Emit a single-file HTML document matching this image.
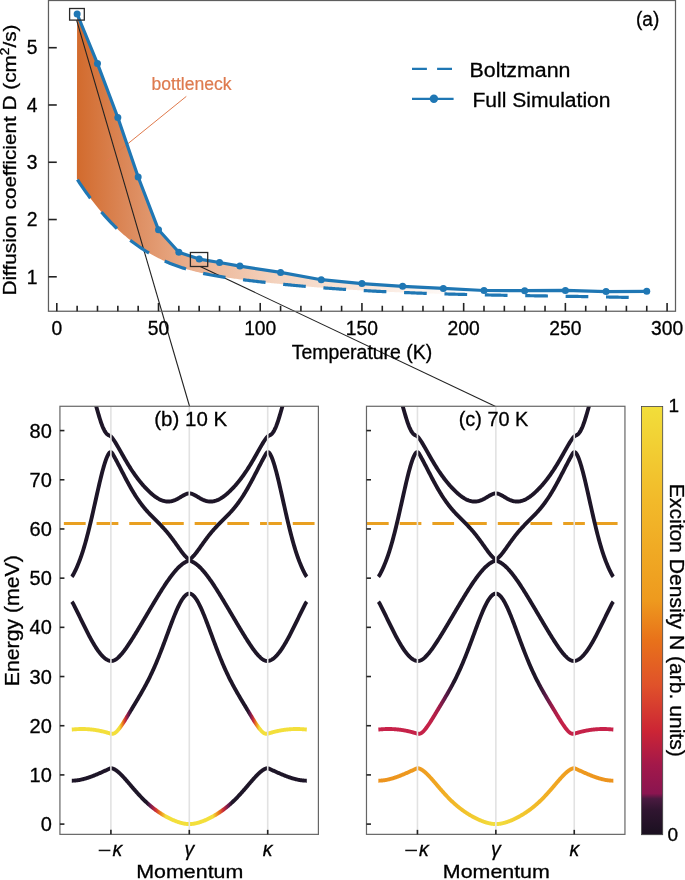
<!DOCTYPE html>
<html><head><meta charset="utf-8"><style>html,body{margin:0;padding:0;background:#fff;}svg{display:block;will-change:transform;} text{stroke:#000;stroke-width:0.3px;}</style></head>
<body><svg width="685" height="880" viewBox="0 0 685 880" font-family="Liberation Sans, sans-serif" fill="#000">
<defs><linearGradient id="fillg" gradientUnits="userSpaceOnUse" x1="76" y1="0" x2="470" y2="0">
<stop offset="0" stop-color="#d26a2c"/>
<stop offset="0.137" stop-color="#dc8a5c"/>
<stop offset="0.315" stop-color="#ecb494"/>
<stop offset="0.518" stop-color="#f4d4c0"/>
<stop offset="0.82" stop-color="#fbeee6"/>
<stop offset="1" stop-color="#ffffff"/>
</linearGradient>
<linearGradient id="b1_10" gradientUnits="userSpaceOnUse" x1="69.3" y1="0" x2="309.3" y2="0"><stop offset="0.0000" stop-color="#1e1628"/><stop offset="0.3229" stop-color="#1e1628"/><stop offset="0.3375" stop-color="#6a1a50"/><stop offset="0.3583" stop-color="#cc2a36"/><stop offset="0.3812" stop-color="#ee8a1c"/><stop offset="0.4021" stop-color="#f3df3b"/><stop offset="0.5000" stop-color="#f3df3b"/><stop offset="0.5000" stop-color="#f3df3b"/><stop offset="0.5979" stop-color="#f3df3b"/><stop offset="0.6188" stop-color="#ee8a1c"/><stop offset="0.6417" stop-color="#cc2a36"/><stop offset="0.6625" stop-color="#6a1a50"/><stop offset="0.6771" stop-color="#1e1628"/><stop offset="1.0000" stop-color="#1e1628"/></linearGradient>
<linearGradient id="b2_10" gradientUnits="userSpaceOnUse" x1="69.3" y1="0" x2="309.3" y2="0"><stop offset="0.0000" stop-color="#f3df3b"/><stop offset="0.2083" stop-color="#f3df3b"/><stop offset="0.2208" stop-color="#ee8a1c"/><stop offset="0.2333" stop-color="#cc2a36"/><stop offset="0.2458" stop-color="#6a1a50"/><stop offset="0.2583" stop-color="#1e1628"/><stop offset="0.5000" stop-color="#1e1628"/><stop offset="0.5000" stop-color="#1e1628"/><stop offset="0.7417" stop-color="#1e1628"/><stop offset="0.7542" stop-color="#6a1a50"/><stop offset="0.7667" stop-color="#cc2a36"/><stop offset="0.7792" stop-color="#ee8a1c"/><stop offset="0.7917" stop-color="#f3df3b"/><stop offset="1.0000" stop-color="#f3df3b"/></linearGradient>
<linearGradient id="b1_70" gradientUnits="userSpaceOnUse" x1="375.85" y1="0" x2="615.85" y2="0"><stop offset="0.0000" stop-color="#ec921e"/><stop offset="0.1750" stop-color="#ee9a1e"/><stop offset="0.2500" stop-color="#f0a622"/><stop offset="0.3750" stop-color="#f2c42c"/><stop offset="0.5000" stop-color="#f2e040"/><stop offset="0.5000" stop-color="#f2e040"/><stop offset="0.6250" stop-color="#f2c42c"/><stop offset="0.7500" stop-color="#f0a622"/><stop offset="0.8250" stop-color="#ee9a1e"/><stop offset="1.0000" stop-color="#ec921e"/></linearGradient>
<linearGradient id="b2_70" gradientUnits="userSpaceOnUse" x1="375.85" y1="0" x2="615.85" y2="0"><stop offset="0.0000" stop-color="#c8224a"/><stop offset="0.2250" stop-color="#c42248"/><stop offset="0.2583" stop-color="#a81c48"/><stop offset="0.2917" stop-color="#5a1a48"/><stop offset="0.3250" stop-color="#1e1628"/><stop offset="0.5000" stop-color="#1e1628"/><stop offset="0.5000" stop-color="#1e1628"/><stop offset="0.6750" stop-color="#1e1628"/><stop offset="0.7083" stop-color="#5a1a48"/><stop offset="0.7417" stop-color="#a81c48"/><stop offset="0.7750" stop-color="#c42248"/><stop offset="1.0000" stop-color="#c8224a"/></linearGradient>
<clipPath id="cb"><rect x="59.93" y="406.28" width="258.47" height="428.08"/></clipPath>
<clipPath id="cc"><rect x="366.48" y="406.28" width="258.47" height="428.08"/></clipPath>
<linearGradient id="cbar" x1="0" y1="1" x2="0" y2="0">
<stop offset="0" stop-color="#1a1020"/>
<stop offset="0.058" stop-color="#301530"/>
<stop offset="0.084" stop-color="#4a1a40"/>
<stop offset="0.096" stop-color="#8a1550"/>
<stop offset="0.163" stop-color="#a3184a"/>
<stop offset="0.242" stop-color="#cc2535"/>
<stop offset="0.35" stop-color="#e0522a"/>
<stop offset="0.455" stop-color="#e8721a"/>
<stop offset="0.548" stop-color="#ee9a1e"/>
<stop offset="0.782" stop-color="#f2ba2a"/>
<stop offset="1" stop-color="#f2de3a"/>
</linearGradient></defs>
<rect x="0" y="0" width="685" height="880" fill="#fff"/>
<polygon points="77.1,14 97.49,63.6 117.83,117.5 138.17,177 158.51,229.8 178.86,252.3 199.2,259.1 219.54,262.5 239.89,266.1 280.57,272.4 321.26,279.7 361.94,283.6 402.63,286.3 443.32,288.4 484,290.5 524.69,290.7 565.38,290.4 606.06,291.6 646.75,291.3 628.9,297.45 628.9,297.45 627.52,297.42 626.13,297.39 624.75,297.36 623.37,297.33 621.98,297.3 620.6,297.27 619.22,297.24 617.83,297.21 616.45,297.18 615.07,297.15 613.68,297.12 612.3,297.09 610.92,297.07 609.53,297.04 608.15,297.01 606.76,296.98 605.38,296.96 604,296.93 602.61,296.9 601.23,296.88 599.85,296.85 598.46,296.83 597.08,296.8 595.7,296.78 594.31,296.75 592.93,296.73 591.55,296.7 590.16,296.68 588.78,296.65 587.4,296.63 586.01,296.61 584.63,296.58 583.25,296.56 581.86,296.54 580.48,296.51 579.1,296.49 577.71,296.47 576.33,296.45 574.95,296.42 573.56,296.4 572.18,296.38 570.79,296.36 569.41,296.33 568.03,296.31 566.64,296.29 565.26,296.27 563.88,296.25 562.49,296.22 561.11,296.2 559.73,296.18 558.34,296.16 556.96,296.14 555.58,296.12 554.19,296.09 552.81,296.07 551.43,296.05 550.04,296.03 548.66,296.01 547.28,295.99 545.89,295.97 544.51,295.94 543.13,295.92 541.74,295.9 540.36,295.88 538.98,295.86 537.59,295.84 536.21,295.81 534.82,295.79 533.44,295.77 532.06,295.75 530.67,295.73 529.29,295.7 527.91,295.68 526.52,295.66 525.14,295.64 523.76,295.61 522.37,295.59 520.99,295.57 519.61,295.55 518.22,295.52 516.84,295.5 515.46,295.48 514.07,295.45 512.69,295.43 511.31,295.41 509.92,295.38 508.54,295.36 507.16,295.33 505.77,295.31 504.39,295.28 503.01,295.26 501.62,295.23 500.24,295.21 498.85,295.18 497.47,295.16 496.09,295.13 494.7,295.1 493.32,295.08 491.94,295.05 490.55,295.02 489.17,295 487.79,294.97 486.4,294.94 485.02,294.91 483.64,294.88 482.25,294.85 480.87,294.82 479.49,294.79 478.1,294.76 476.72,294.73 475.34,294.7 473.95,294.67 472.57,294.64 471.19,294.61 469.8,294.58 468.42,294.55 467.04,294.51 465.65,294.48 464.27,294.45 462.88,294.41 461.5,294.38 460.12,294.34 458.73,294.31 457.35,294.27 455.97,294.24 454.58,294.2 453.2,294.16 451.82,294.13 450.43,294.09 449.05,294.05 447.67,294.01 446.28,293.97 444.9,293.93 443.52,293.89 442.13,293.85 440.75,293.81 439.37,293.77 437.98,293.73 436.6,293.69 435.22,293.64 433.83,293.6 432.45,293.55 431.07,293.51 429.68,293.46 428.3,293.42 426.92,293.37 425.53,293.32 424.15,293.28 422.76,293.23 421.38,293.18 420,293.13 418.61,293.08 417.23,293.03 415.85,292.98 414.46,292.93 413.08,292.88 411.7,292.82 410.31,292.77 408.93,292.72 407.55,292.66 406.16,292.6 404.78,292.55 403.4,292.49 402.01,292.43 400.63,292.38 399.25,292.32 397.86,292.26 396.48,292.2 395.1,292.14 393.71,292.07 392.33,292.01 390.95,291.95 389.56,291.88 388.18,291.82 386.79,291.75 385.41,291.69 384.03,291.62 382.64,291.55 381.26,291.49 379.88,291.42 378.49,291.35 377.11,291.28 375.73,291.2 374.34,291.13 372.96,291.06 371.58,290.98 370.19,290.91 368.81,290.83 367.43,290.76 366.04,290.68 364.66,290.6 363.28,290.52 361.89,290.44 360.51,290.36 359.13,290.28 357.74,290.2 356.36,290.11 354.98,290.03 353.59,289.95 352.21,289.86 350.82,289.77 349.44,289.68 348.06,289.6 346.67,289.51 345.29,289.41 343.91,289.32 342.52,289.23 341.14,289.14 339.76,289.04 338.37,288.95 336.99,288.85 335.61,288.75 334.22,288.65 332.84,288.56 331.46,288.46 330.07,288.35 328.69,288.25 327.31,288.15 325.92,288.04 324.54,287.94 323.16,287.83 321.77,287.72 320.39,287.62 319.01,287.51 317.62,287.39 316.24,287.28 314.85,287.17 313.47,287.06 312.09,286.94 310.7,286.83 309.32,286.71 307.94,286.59 306.55,286.47 305.17,286.35 303.79,286.23 302.4,286.11 301.02,285.98 299.64,285.86 298.25,285.73 296.87,285.6 295.49,285.48 294.1,285.35 292.72,285.22 291.34,285.09 289.95,284.95 288.57,284.82 287.19,284.68 285.8,284.55 284.42,284.41 283.04,284.27 281.65,284.13 280.27,283.99 278.88,283.85 277.5,283.71 276.12,283.56 274.73,283.42 273.35,283.27 271.97,283.13 270.58,282.98 269.2,282.83 267.82,282.68 266.43,282.52 265.05,282.37 263.67,282.21 262.28,282.06 260.9,281.9 259.52,281.74 258.13,281.58 256.75,281.42 255.37,281.26 253.98,281.1 252.6,280.93 251.22,280.77 249.83,280.6 248.45,280.43 247.07,280.26 245.68,280.09 244.3,279.92 242.92,279.75 241.53,279.57 240.15,279.4 238.76,279.22 237.38,279.04 236,278.86 234.61,278.68 233.23,278.49 231.85,278.3 230.46,278.11 229.08,277.91 227.7,277.71 226.31,277.51 224.93,277.31 223.55,277.09 222.16,276.88 220.78,276.66 219.4,276.44 218.01,276.21 216.63,275.97 215.25,275.73 213.86,275.48 212.48,275.23 211.1,274.97 209.71,274.71 208.33,274.44 206.95,274.16 205.56,273.87 204.18,273.58 202.79,273.28 201.41,272.97 200.03,272.65 198.64,272.33 197.26,271.99 195.88,271.65 194.49,271.3 193.11,270.94 191.73,270.57 190.34,270.19 188.96,269.8 187.58,269.4 186.19,268.99 184.81,268.57 183.43,268.14 182.04,267.69 180.66,267.24 179.28,266.77 177.89,266.29 176.51,265.8 175.13,265.3 173.74,264.79 172.36,264.26 170.98,263.71 169.59,263.16 168.21,262.58 166.82,262 165.44,261.4 164.06,260.78 162.67,260.15 161.29,259.5 159.91,258.84 158.52,258.16 157.14,257.46 155.76,256.75 154.37,256.02 152.99,255.27 151.61,254.5 150.22,253.72 148.84,252.91 147.46,252.09 146.07,251.25 144.69,250.39 143.31,249.5 141.92,248.6 140.54,247.68 139.16,246.74 137.77,245.77 136.39,244.79 135.01,243.78 133.62,242.75 132.24,241.7 130.85,240.63 129.47,239.53 128.09,238.41 126.7,237.26 125.32,236.09 123.94,234.9 122.55,233.69 121.17,232.45 119.79,231.18 118.4,229.89 117.02,228.58 115.64,227.24 114.25,225.88 112.87,224.49 111.49,223.07 110.1,221.63 108.72,220.16 107.34,218.67 105.95,217.15 104.57,215.61 103.19,214.03 101.8,212.43 100.42,210.81 99.04,209.15 97.65,207.47 96.27,205.76 94.88,204.02 93.5,202.26 92.12,200.46 90.73,198.64 89.35,196.79 87.97,194.91 86.58,193 85.2,191.07 83.82,189.1 82.43,187.1 81.05,185.08 79.67,183.02 78.28,180.93 76.9,178.81" fill="url(#fillg)"/>
<line x1="186.3" y1="96.4" x2="106.5" y2="161" stroke="#e07a4c" stroke-width="1"/>
<text x="151.6" y="89.5" font-size="17.5" fill="#de7b4f" style="stroke:#de7b4f;stroke-width:0.2px" textLength="80" lengthAdjust="spacingAndGlyphs">bottleneck</text>
<line x1="76.6" y1="20.1" x2="189.6" y2="406.5" stroke="#222" stroke-width="1.1"/>
<line x1="200.2" y1="266.5" x2="495.6" y2="406.5" stroke="#222" stroke-width="1.1"/>
<path d="M76.9,178.81 L78.28,180.93 L79.67,183.02 L81.05,185.08 L82.43,187.1 L83.82,189.1 L85.2,191.07 L86.58,193 L87.97,194.91 L89.35,196.79 L90.73,198.64 L92.12,200.46 L93.5,202.26 L94.88,204.02 L96.27,205.76 L97.65,207.47 L99.04,209.15 L100.42,210.81 L101.8,212.43 L103.19,214.03 L104.57,215.61 L105.95,217.15 L107.34,218.67 L108.72,220.16 L110.1,221.63 L111.49,223.07 L112.87,224.49 L114.25,225.88 L115.64,227.24 L117.02,228.58 L118.4,229.89 L119.79,231.18 L121.17,232.45 L122.55,233.69 L123.94,234.9 L125.32,236.09 L126.7,237.26 L128.09,238.41 L129.47,239.53 L130.85,240.63 L132.24,241.7 L133.62,242.75 L135.01,243.78 L136.39,244.79 L137.77,245.77 L139.16,246.74 L140.54,247.68 L141.92,248.6 L143.31,249.5 L144.69,250.39 L146.07,251.25 L147.46,252.09 L148.84,252.91 L150.22,253.72 L151.61,254.5 L152.99,255.27 L154.37,256.02 L155.76,256.75 L157.14,257.46 L158.52,258.16 L159.91,258.84 L161.29,259.5 L162.67,260.15 L164.06,260.78 L165.44,261.4 L166.82,262 L168.21,262.58 L169.59,263.16 L170.98,263.71 L172.36,264.26 L173.74,264.79 L175.13,265.3 L176.51,265.8 L177.89,266.29 L179.28,266.77 L180.66,267.24 L182.04,267.69 L183.43,268.14 L184.81,268.57 L186.19,268.99 L187.58,269.4 L188.96,269.8 L190.34,270.19 L191.73,270.57 L193.11,270.94 L194.49,271.3 L195.88,271.65 L197.26,271.99 L198.64,272.33 L200.03,272.65 L201.41,272.97 L202.79,273.28 L204.18,273.58 L205.56,273.87 L206.95,274.16 L208.33,274.44 L209.71,274.71 L211.1,274.97 L212.48,275.23 L213.86,275.48 L215.25,275.73 L216.63,275.97 L218.01,276.21 L219.4,276.44 L220.78,276.66 L222.16,276.88 L223.55,277.09 L224.93,277.31 L226.31,277.51 L227.7,277.71 L229.08,277.91 L230.46,278.11 L231.85,278.3 L233.23,278.49 L234.61,278.68 L236,278.86 L237.38,279.04 L238.76,279.22 L240.15,279.4 L241.53,279.57 L242.92,279.75 L244.3,279.92 L245.68,280.09 L247.07,280.26 L248.45,280.43 L249.83,280.6 L251.22,280.77 L252.6,280.93 L253.98,281.1 L255.37,281.26 L256.75,281.42 L258.13,281.58 L259.52,281.74 L260.9,281.9 L262.28,282.06 L263.67,282.21 L265.05,282.37 L266.43,282.52 L267.82,282.68 L269.2,282.83 L270.58,282.98 L271.97,283.13 L273.35,283.27 L274.73,283.42 L276.12,283.56 L277.5,283.71 L278.88,283.85 L280.27,283.99 L281.65,284.13 L283.04,284.27 L284.42,284.41 L285.8,284.55 L287.19,284.68 L288.57,284.82 L289.95,284.95 L291.34,285.09 L292.72,285.22 L294.1,285.35 L295.49,285.48 L296.87,285.6 L298.25,285.73 L299.64,285.86 L301.02,285.98 L302.4,286.11 L303.79,286.23 L305.17,286.35 L306.55,286.47 L307.94,286.59 L309.32,286.71 L310.7,286.83 L312.09,286.94 L313.47,287.06 L314.85,287.17 L316.24,287.28 L317.62,287.39 L319.01,287.51 L320.39,287.62 L321.77,287.72 L323.16,287.83 L324.54,287.94 L325.92,288.04 L327.31,288.15 L328.69,288.25 L330.07,288.35 L331.46,288.46 L332.84,288.56 L334.22,288.65 L335.61,288.75 L336.99,288.85 L338.37,288.95 L339.76,289.04 L341.14,289.14 L342.52,289.23 L343.91,289.32 L345.29,289.41 L346.67,289.51 L348.06,289.6 L349.44,289.68 L350.82,289.77 L352.21,289.86 L353.59,289.95 L354.98,290.03 L356.36,290.11 L357.74,290.2 L359.13,290.28 L360.51,290.36 L361.89,290.44 L363.28,290.52 L364.66,290.6 L366.04,290.68 L367.43,290.76 L368.81,290.83 L370.19,290.91 L371.58,290.98 L372.96,291.06 L374.34,291.13 L375.73,291.2 L377.11,291.28 L378.49,291.35 L379.88,291.42 L381.26,291.49 L382.64,291.55 L384.03,291.62 L385.41,291.69 L386.79,291.75 L388.18,291.82 L389.56,291.88 L390.95,291.95 L392.33,292.01 L393.71,292.07 L395.1,292.14 L396.48,292.2 L397.86,292.26 L399.25,292.32 L400.63,292.38 L402.01,292.43 L403.4,292.49 L404.78,292.55 L406.16,292.6 L407.55,292.66 L408.93,292.72 L410.31,292.77 L411.7,292.82 L413.08,292.88 L414.46,292.93 L415.85,292.98 L417.23,293.03 L418.61,293.08 L420,293.13 L421.38,293.18 L422.76,293.23 L424.15,293.28 L425.53,293.32 L426.92,293.37 L428.3,293.42 L429.68,293.46 L431.07,293.51 L432.45,293.55 L433.83,293.6 L435.22,293.64 L436.6,293.69 L437.98,293.73 L439.37,293.77 L440.75,293.81 L442.13,293.85 L443.52,293.89 L444.9,293.93 L446.28,293.97 L447.67,294.01 L449.05,294.05 L450.43,294.09 L451.82,294.13 L453.2,294.16 L454.58,294.2 L455.97,294.24 L457.35,294.27 L458.73,294.31 L460.12,294.34 L461.5,294.38 L462.88,294.41 L464.27,294.45 L465.65,294.48 L467.04,294.51 L468.42,294.55 L469.8,294.58 L471.19,294.61 L472.57,294.64 L473.95,294.67 L475.34,294.7 L476.72,294.73 L478.1,294.76 L479.49,294.79 L480.87,294.82 L482.25,294.85 L483.64,294.88 L485.02,294.91 L486.4,294.94 L487.79,294.97 L489.17,295 L490.55,295.02 L491.94,295.05 L493.32,295.08 L494.7,295.1 L496.09,295.13 L497.47,295.16 L498.85,295.18 L500.24,295.21 L501.62,295.23 L503.01,295.26 L504.39,295.28 L505.77,295.31 L507.16,295.33 L508.54,295.36 L509.92,295.38 L511.31,295.41 L512.69,295.43 L514.07,295.45 L515.46,295.48 L516.84,295.5 L518.22,295.52 L519.61,295.55 L520.99,295.57 L522.37,295.59 L523.76,295.61 L525.14,295.64 L526.52,295.66 L527.91,295.68 L529.29,295.7 L530.67,295.73 L532.06,295.75 L533.44,295.77 L534.82,295.79 L536.21,295.81 L537.59,295.84 L538.98,295.86 L540.36,295.88 L541.74,295.9 L543.13,295.92 L544.51,295.94 L545.89,295.97 L547.28,295.99 L548.66,296.01 L550.04,296.03 L551.43,296.05 L552.81,296.07 L554.19,296.09 L555.58,296.12 L556.96,296.14 L558.34,296.16 L559.73,296.18 L561.11,296.2 L562.49,296.22 L563.88,296.25 L565.26,296.27 L566.64,296.29 L568.03,296.31 L569.41,296.33 L570.79,296.36 L572.18,296.38 L573.56,296.4 L574.95,296.42 L576.33,296.45 L577.71,296.47 L579.1,296.49 L580.48,296.51 L581.86,296.54 L583.25,296.56 L584.63,296.58 L586.01,296.61 L587.4,296.63 L588.78,296.65 L590.16,296.68 L591.55,296.7 L592.93,296.73 L594.31,296.75 L595.7,296.78 L597.08,296.8 L598.46,296.83 L599.85,296.85 L601.23,296.88 L602.61,296.9 L604,296.93 L605.38,296.96 L606.76,296.98 L608.15,297.01 L609.53,297.04 L610.92,297.07 L612.3,297.09 L613.68,297.12 L615.07,297.15 L616.45,297.18 L617.83,297.21 L619.22,297.24 L620.6,297.27 L621.98,297.3 L623.37,297.33 L624.75,297.36 L626.13,297.39 L627.52,297.42 L628.9,297.45" fill="none" stroke="#1f77b4" stroke-width="3.2" stroke-dasharray="22.7 17.7" stroke-dashoffset="-0.9"/>
<polyline points="77.14,14 97.49,63.6 117.83,117.5 138.17,177 158.51,229.8 178.86,252.3 199.2,259.1 219.54,262.5 239.89,266.1 280.57,272.4 321.26,279.7 361.94,283.6 402.63,286.3 443.32,288.4 484,290.5 524.69,290.7 565.38,290.4 606.06,291.6 646.75,291.3" fill="none" stroke="#1f77b4" stroke-width="3.2" stroke-linejoin="round"/>
<circle cx="77.14" cy="14" r="3.5" fill="#1f77b4"/>
<circle cx="97.49" cy="63.6" r="3.5" fill="#1f77b4"/>
<circle cx="117.83" cy="117.5" r="3.5" fill="#1f77b4"/>
<circle cx="138.17" cy="177" r="3.5" fill="#1f77b4"/>
<circle cx="158.51" cy="229.8" r="3.5" fill="#1f77b4"/>
<circle cx="178.86" cy="252.3" r="3.5" fill="#1f77b4"/>
<circle cx="199.2" cy="259.1" r="3.5" fill="#1f77b4"/>
<circle cx="219.54" cy="262.5" r="3.5" fill="#1f77b4"/>
<circle cx="239.89" cy="266.1" r="3.5" fill="#1f77b4"/>
<circle cx="280.57" cy="272.4" r="3.5" fill="#1f77b4"/>
<circle cx="321.26" cy="279.7" r="3.5" fill="#1f77b4"/>
<circle cx="361.94" cy="283.6" r="3.5" fill="#1f77b4"/>
<circle cx="402.63" cy="286.3" r="3.5" fill="#1f77b4"/>
<circle cx="443.32" cy="288.4" r="3.5" fill="#1f77b4"/>
<circle cx="484" cy="290.5" r="3.5" fill="#1f77b4"/>
<circle cx="524.69" cy="290.7" r="3.5" fill="#1f77b4"/>
<circle cx="565.38" cy="290.4" r="3.5" fill="#1f77b4"/>
<circle cx="606.06" cy="291.6" r="3.5" fill="#1f77b4"/>
<circle cx="646.75" cy="291.3" r="3.5" fill="#1f77b4"/>
<rect x="69.6" y="8.5" width="14.7" height="11.6" fill="none" stroke="#2a2a2a" stroke-width="1.3"/>
<rect x="190.4" y="252.5" width="17.3" height="14" fill="none" stroke="#2a2a2a" stroke-width="1.3"/>
<rect x="48.47" y="0.5" width="627.03" height="310.74" fill="none" stroke="#5e5e5e" stroke-width="1.25"/>
<line x1="48.47" y1="276.8" x2="56.769999999999996" y2="276.8" stroke="#222" stroke-width="1.6"/>
<text x="37.6" y="283.5" font-size="19.3" text-anchor="end">1</text>
<line x1="48.47" y1="219.53" x2="56.769999999999996" y2="219.53" stroke="#222" stroke-width="1.6"/>
<text x="37.6" y="226.22" font-size="19.3" text-anchor="end">2</text>
<line x1="48.47" y1="162.25" x2="56.769999999999996" y2="162.25" stroke="#222" stroke-width="1.6"/>
<text x="37.6" y="168.95" font-size="19.3" text-anchor="end">3</text>
<line x1="48.47" y1="104.98" x2="56.769999999999996" y2="104.98" stroke="#222" stroke-width="1.6"/>
<text x="37.6" y="111.68" font-size="19.3" text-anchor="end">4</text>
<line x1="48.47" y1="47.7" x2="56.769999999999996" y2="47.7" stroke="#222" stroke-width="1.6"/>
<text x="37.6" y="54.4" font-size="19.3" text-anchor="end">5</text>
<line x1="56.8" y1="311.24" x2="56.8" y2="302.94" stroke="#222" stroke-width="1.6"/>
<line x1="77.14" y1="311.24" x2="77.14" y2="305.74" stroke="#222" stroke-width="1.6"/>
<line x1="97.49" y1="311.24" x2="97.49" y2="305.74" stroke="#222" stroke-width="1.6"/>
<line x1="117.83" y1="311.24" x2="117.83" y2="305.74" stroke="#222" stroke-width="1.6"/>
<line x1="138.17" y1="311.24" x2="138.17" y2="305.74" stroke="#222" stroke-width="1.6"/>
<line x1="158.51" y1="311.24" x2="158.51" y2="302.94" stroke="#222" stroke-width="1.6"/>
<line x1="178.86" y1="311.24" x2="178.86" y2="305.74" stroke="#222" stroke-width="1.6"/>
<line x1="199.2" y1="311.24" x2="199.2" y2="305.74" stroke="#222" stroke-width="1.6"/>
<line x1="219.54" y1="311.24" x2="219.54" y2="305.74" stroke="#222" stroke-width="1.6"/>
<line x1="239.89" y1="311.24" x2="239.89" y2="305.74" stroke="#222" stroke-width="1.6"/>
<line x1="260.23" y1="311.24" x2="260.23" y2="302.94" stroke="#222" stroke-width="1.6"/>
<line x1="280.57" y1="311.24" x2="280.57" y2="305.74" stroke="#222" stroke-width="1.6"/>
<line x1="300.92" y1="311.24" x2="300.92" y2="305.74" stroke="#222" stroke-width="1.6"/>
<line x1="321.26" y1="311.24" x2="321.26" y2="305.74" stroke="#222" stroke-width="1.6"/>
<line x1="341.6" y1="311.24" x2="341.6" y2="305.74" stroke="#222" stroke-width="1.6"/>
<line x1="361.94" y1="311.24" x2="361.94" y2="302.94" stroke="#222" stroke-width="1.6"/>
<line x1="382.29" y1="311.24" x2="382.29" y2="305.74" stroke="#222" stroke-width="1.6"/>
<line x1="402.63" y1="311.24" x2="402.63" y2="305.74" stroke="#222" stroke-width="1.6"/>
<line x1="422.97" y1="311.24" x2="422.97" y2="305.74" stroke="#222" stroke-width="1.6"/>
<line x1="443.32" y1="311.24" x2="443.32" y2="305.74" stroke="#222" stroke-width="1.6"/>
<line x1="463.66" y1="311.24" x2="463.66" y2="302.94" stroke="#222" stroke-width="1.6"/>
<line x1="484" y1="311.24" x2="484" y2="305.74" stroke="#222" stroke-width="1.6"/>
<line x1="504.35" y1="311.24" x2="504.35" y2="305.74" stroke="#222" stroke-width="1.6"/>
<line x1="524.69" y1="311.24" x2="524.69" y2="305.74" stroke="#222" stroke-width="1.6"/>
<line x1="545.03" y1="311.24" x2="545.03" y2="305.74" stroke="#222" stroke-width="1.6"/>
<line x1="565.38" y1="311.24" x2="565.38" y2="302.94" stroke="#222" stroke-width="1.6"/>
<line x1="585.72" y1="311.24" x2="585.72" y2="305.74" stroke="#222" stroke-width="1.6"/>
<line x1="606.06" y1="311.24" x2="606.06" y2="305.74" stroke="#222" stroke-width="1.6"/>
<line x1="626.4" y1="311.24" x2="626.4" y2="305.74" stroke="#222" stroke-width="1.6"/>
<line x1="646.75" y1="311.24" x2="646.75" y2="305.74" stroke="#222" stroke-width="1.6"/>
<line x1="667.09" y1="311.24" x2="667.09" y2="302.94" stroke="#222" stroke-width="1.6"/>
<text x="56.8" y="335.2" font-size="19.3" text-anchor="middle">0</text>
<text x="158.51" y="335.2" font-size="19.3" text-anchor="middle">50</text>
<text x="260.23" y="335.2" font-size="19.3" text-anchor="middle">100</text>
<text x="361.94" y="335.2" font-size="19.3" text-anchor="middle">150</text>
<text x="463.66" y="335.2" font-size="19.3" text-anchor="middle">200</text>
<text x="565.38" y="335.2" font-size="19.3" text-anchor="middle">250</text>
<text x="667.09" y="335.2" font-size="19.3" text-anchor="middle">300</text>
<text x="291.7" y="359.2" font-size="19.3" textLength="140.6" lengthAdjust="spacingAndGlyphs">Temperature (K)</text>
<text transform="translate(16.3,295.5) rotate(-90)" x="0" y="0" font-size="19" textLength="271" lengthAdjust="spacingAndGlyphs">Diffusion coefficient D (cm<tspan font-size="12.5" dy="-7">2</tspan><tspan dy="7">/s)</tspan></text>
<text x="636" y="26.4" font-size="20" textLength="23.3" lengthAdjust="spacingAndGlyphs">(a)</text>
<line x1="412" y1="68.9" x2="452.4" y2="68.9" stroke="#1f77b4" stroke-width="2.2" stroke-dasharray="14.9 10.2"/>
<line x1="412" y1="98.8" x2="453.6" y2="98.8" stroke="#1f77b4" stroke-width="2.2"/>
<circle cx="433.9" cy="98.8" r="4.2" fill="#1f77b4"/>
<text x="469.5" y="76.6" font-size="20" textLength="101" lengthAdjust="spacingAndGlyphs">Boltzmann</text>
<text x="472.5" y="106.8" font-size="20" textLength="138" lengthAdjust="spacingAndGlyphs">Full Simulation</text>
<g clip-path="url(#cb)">
<line x1="63.86" y1="523.4" x2="314.74" y2="523.4" stroke="#e9a021" stroke-width="3" stroke-dasharray="21.8 10.9"/>
<path d="M93.75,399.65 L94.25,400.58 L94.75,401.81 L95.25,403.27 L95.75,404.86 L96.25,406.54 L96.75,408.25 L97.25,409.98 L97.75,411.72 L98.25,413.44 L98.75,415.15 L99.25,416.82 L99.75,418.45 L100.25,420.04 L100.75,421.56 L101.25,423.03 L101.75,424.42 L102.25,425.75 L102.75,426.99 L103.25,428.15 L103.75,429.23 L104.25,430.21 L104.75,431.12 L105.25,431.93 L105.75,432.65 L106.25,433.29 L106.75,433.84 L107.25,434.32 L107.75,434.71 L108.25,435.03 L108.75,435.3 L109.25,435.52 L109.75,435.74 L110.25,435.99 L110.75,436.33 L111.25,436.76 L111.75,437.3 L112.25,437.91 L112.75,438.57 L113.25,439.27 L113.75,440 L114.25,440.76 L114.75,441.53 L115.25,442.33 L115.75,443.14 L116.25,443.96 L116.75,444.8 L117.25,445.64 L117.75,446.5 L118.25,447.37 L118.75,448.24 L119.25,449.12 L119.75,450 L120.25,450.88 L120.75,451.77 L121.25,452.65 L121.75,453.54 L122.25,454.42 L122.75,455.3 L123.25,456.18 L123.75,457.06 L124.25,457.93 L124.75,458.8 L125.25,459.66 L125.75,460.51 L126.25,461.36 L126.75,462.2 L127.25,463.04 L127.75,463.87 L128.25,464.69 L128.75,465.5 L129.25,466.31 L129.75,467.11 L130.25,467.9 L130.75,468.68 L131.25,469.45 L131.75,470.21 L132.25,470.97 L132.75,471.72 L133.25,472.45 L133.75,473.18 L134.25,473.9 L134.75,474.61 L135.25,475.32 L135.75,476.01 L136.25,476.7 L136.75,477.37 L137.25,478.04 L137.75,478.7 L138.25,479.36 L138.75,480 L139.25,480.64 L139.75,481.26 L140.25,481.88 L140.75,482.49 L141.25,483.1 L141.75,483.69 L142.25,484.28 L142.75,484.86 L143.25,485.43 L143.75,486 L144.25,486.55 L144.75,487.1 L145.25,487.64 L145.75,488.17 L146.25,488.7 L146.75,489.22 L147.25,489.72 L147.75,490.22 L148.25,490.72 L148.75,491.2 L149.25,491.68 L149.75,492.14 L150.25,492.6 L150.75,493.05 L151.25,493.49 L151.75,493.92 L152.25,494.35 L152.75,494.76 L153.25,495.16 L153.75,495.56 L154.25,495.94 L154.75,496.31 L155.25,496.68 L155.75,497.03 L156.25,497.37 L156.75,497.7 L157.25,498.02 L157.75,498.32 L158.25,498.62 L158.75,498.9 L159.25,499.17 L159.75,499.42 L160.25,499.67 L160.75,499.9 L161.25,500.11 L161.75,500.32 L162.25,500.5 L162.75,500.68 L163.25,500.84 L163.75,500.98 L164.25,501.11 L164.75,501.22 L165.25,501.32 L165.75,501.4 L166.25,501.47 L166.75,501.52 L167.25,501.55 L167.75,501.57 L168.25,501.57 L168.75,501.56 L169.25,501.53 L169.75,501.48 L170.25,501.42 L170.75,501.34 L171.25,501.25 L171.75,501.13 L172.25,501.01 L172.75,500.87 L173.25,500.71 L173.75,500.54 L174.25,500.35 L174.75,500.15 L175.25,499.94 L175.75,499.72 L176.25,499.48 L176.75,499.23 L177.25,498.97 L177.75,498.71 L178.25,498.43 L178.75,498.15 L179.25,497.86 L179.75,497.56 L180.25,497.27 L180.75,496.97 L181.25,496.66 L181.75,496.36 L182.25,496.06 L182.75,495.77 L183.25,495.48 L183.75,495.2 L184.25,494.93 L184.75,494.68 L185.25,494.44 L185.75,494.21 L186.25,494.01 L186.75,493.83 L187.25,493.67 L187.75,493.55 L188.25,493.46 L188.75,493.4 L189.35,493.38 L189.85,493.4 L190.35,493.46 L190.85,493.55 L191.35,493.67 L191.85,493.83 L192.35,494.01 L192.85,494.21 L193.35,494.44 L193.85,494.68 L194.35,494.93 L194.85,495.2 L195.35,495.48 L195.85,495.77 L196.35,496.06 L196.85,496.36 L197.35,496.66 L197.85,496.97 L198.35,497.27 L198.85,497.56 L199.35,497.86 L199.85,498.15 L200.35,498.43 L200.85,498.71 L201.35,498.97 L201.85,499.23 L202.35,499.48 L202.85,499.72 L203.35,499.94 L203.85,500.15 L204.35,500.35 L204.85,500.54 L205.35,500.71 L205.85,500.87 L206.35,501.01 L206.85,501.13 L207.35,501.25 L207.85,501.34 L208.35,501.42 L208.85,501.48 L209.35,501.53 L209.85,501.56 L210.35,501.57 L210.85,501.57 L211.35,501.55 L211.85,501.52 L212.35,501.47 L212.85,501.4 L213.35,501.32 L213.85,501.22 L214.35,501.11 L214.85,500.98 L215.35,500.84 L215.85,500.68 L216.35,500.5 L216.85,500.32 L217.35,500.11 L217.85,499.9 L218.35,499.67 L218.85,499.42 L219.35,499.17 L219.85,498.9 L220.35,498.62 L220.85,498.32 L221.35,498.02 L221.85,497.7 L222.35,497.37 L222.85,497.03 L223.35,496.68 L223.85,496.31 L224.35,495.94 L224.85,495.56 L225.35,495.16 L225.85,494.76 L226.35,494.35 L226.85,493.92 L227.35,493.49 L227.85,493.05 L228.35,492.6 L228.85,492.14 L229.35,491.68 L229.85,491.2 L230.35,490.72 L230.85,490.22 L231.35,489.72 L231.85,489.22 L232.35,488.7 L232.85,488.17 L233.35,487.64 L233.85,487.1 L234.35,486.55 L234.85,486 L235.35,485.43 L235.85,484.86 L236.35,484.28 L236.85,483.69 L237.35,483.1 L237.85,482.49 L238.35,481.88 L238.85,481.26 L239.35,480.64 L239.85,480 L240.35,479.36 L240.85,478.7 L241.35,478.04 L241.85,477.37 L242.35,476.7 L242.85,476.01 L243.35,475.32 L243.85,474.61 L244.35,473.9 L244.85,473.18 L245.35,472.45 L245.85,471.72 L246.35,470.97 L246.85,470.21 L247.35,469.45 L247.85,468.68 L248.35,467.9 L248.85,467.11 L249.35,466.31 L249.85,465.5 L250.35,464.69 L250.85,463.87 L251.35,463.04 L251.85,462.2 L252.35,461.36 L252.85,460.51 L253.35,459.66 L253.85,458.8 L254.35,457.93 L254.85,457.06 L255.35,456.18 L255.85,455.3 L256.35,454.42 L256.85,453.54 L257.35,452.65 L257.85,451.77 L258.35,450.88 L258.85,450 L259.35,449.12 L259.85,448.24 L260.35,447.37 L260.85,446.5 L261.35,445.64 L261.85,444.8 L262.35,443.96 L262.85,443.14 L263.35,442.33 L263.85,441.53 L264.35,440.76 L264.85,440 L265.35,439.27 L265.85,438.57 L266.35,437.91 L266.85,437.3 L267.35,436.76 L267.85,436.33 L268.35,435.99 L268.85,435.74 L269.35,435.52 L269.85,435.3 L270.35,435.03 L270.85,434.71 L271.35,434.32 L271.85,433.84 L272.35,433.29 L272.85,432.65 L273.35,431.93 L273.85,431.12 L274.35,430.21 L274.85,429.23 L275.35,428.15 L275.85,426.99 L276.35,425.75 L276.85,424.42 L277.35,423.03 L277.85,421.56 L278.35,420.04 L278.85,418.45 L279.35,416.82 L279.85,415.15 L280.35,413.44 L280.85,411.72 L281.35,409.98 L281.85,408.25 L282.35,406.54 L282.85,404.86 L283.35,403.27 L283.85,401.81 L284.35,400.58 L284.85,399.65" fill="none" stroke="#1e1628" stroke-width="3.9" stroke-linejoin="round"/>
<path d="M71.8,576.74 L72.3,576.18 L72.8,575.45 L73.3,574.59 L73.8,573.66 L74.3,572.69 L74.8,571.68 L75.3,570.65 L75.8,569.59 L76.3,568.5 L76.8,567.39 L77.3,566.24 L77.8,565.06 L78.3,563.85 L78.8,562.61 L79.3,561.33 L79.8,560.01 L80.3,558.65 L80.8,557.26 L81.3,555.83 L81.8,554.36 L82.3,552.85 L82.8,551.3 L83.3,549.71 L83.8,548.09 L84.3,546.42 L84.8,544.71 L85.3,542.97 L85.8,541.19 L86.3,539.37 L86.8,537.51 L87.3,535.62 L87.8,533.69 L88.3,531.73 L88.8,529.74 L89.3,527.71 L89.8,525.66 L90.3,523.58 L90.8,521.48 L91.3,519.35 L91.8,517.2 L92.3,515.03 L92.8,512.84 L93.3,510.63 L93.8,508.42 L94.3,506.19 L94.8,503.96 L95.3,501.72 L95.8,499.48 L96.3,497.24 L96.8,495.01 L97.3,492.79 L97.8,490.58 L98.3,488.38 L98.8,486.2 L99.3,484.05 L99.8,481.92 L100.3,479.83 L100.8,477.77 L101.3,475.75 L101.8,473.77 L102.3,471.84 L102.8,469.97 L103.3,468.16 L103.8,466.4 L104.3,464.72 L104.8,463.11 L105.3,461.58 L105.8,460.13 L106.3,458.78 L106.8,457.52 L107.3,456.36 L107.8,455.31 L108.3,454.37 L108.8,453.56 L109.3,452.88 L109.8,452.37 L110.3,452.07 L110.8,452.02 L111.3,452.24 L111.8,452.71 L112.3,453.37 L112.8,454.16 L113.3,455.01 L113.8,455.89 L114.3,456.79 L114.8,457.7 L115.3,458.62 L115.8,459.54 L116.3,460.48 L116.8,461.42 L117.3,462.37 L117.8,463.32 L118.3,464.28 L118.8,465.24 L119.3,466.21 L119.8,467.18 L120.3,468.15 L120.8,469.12 L121.3,470.09 L121.8,471.06 L122.3,472.03 L122.8,473 L123.3,473.97 L123.8,474.94 L124.3,475.9 L124.8,476.86 L125.3,477.82 L125.8,478.77 L126.3,479.71 L126.8,480.65 L127.3,481.59 L127.8,482.51 L128.3,483.43 L128.8,484.35 L129.3,485.25 L129.8,486.15 L130.3,487.04 L130.8,487.92 L131.3,488.8 L131.8,489.66 L132.3,490.51 L132.8,491.36 L133.3,492.19 L133.8,493.02 L134.3,493.83 L134.8,494.64 L135.3,495.43 L135.8,496.21 L136.3,496.99 L136.8,497.75 L137.3,498.5 L137.8,499.24 L138.3,499.97 L138.8,500.69 L139.3,501.4 L139.8,502.1 L140.3,502.78 L140.8,503.46 L141.3,504.13 L141.8,504.79 L142.3,505.43 L142.8,506.07 L143.3,506.7 L143.8,507.32 L144.3,507.93 L144.8,508.53 L145.3,509.12 L145.8,509.7 L146.3,510.28 L146.8,510.85 L147.3,511.41 L147.8,511.96 L148.3,512.51 L148.8,513.05 L149.3,513.59 L149.8,514.12 L150.3,514.64 L150.8,515.16 L151.3,515.68 L151.8,516.19 L152.3,516.7 L152.8,517.21 L153.3,517.71 L153.8,518.21 L154.3,518.71 L154.8,519.21 L155.3,519.7 L155.8,520.2 L156.3,520.7 L156.8,521.19 L157.3,521.69 L157.8,522.19 L158.3,522.69 L158.8,523.2 L159.3,523.7 L159.8,524.21 L160.3,524.72 L160.8,525.24 L161.3,525.76 L161.8,526.29 L162.3,526.82 L162.8,527.35 L163.3,527.89 L163.8,528.44 L164.3,528.99 L164.8,529.55 L165.3,530.12 L165.8,530.69 L166.3,531.27 L166.8,531.86 L167.3,532.45 L167.8,533.06 L168.3,533.66 L168.8,534.28 L169.3,534.9 L169.8,535.54 L170.3,536.17 L170.8,536.82 L171.3,537.47 L171.8,538.13 L172.3,538.8 L172.8,539.47 L173.3,540.15 L173.8,540.83 L174.3,541.52 L174.8,542.21 L175.3,542.91 L175.8,543.61 L176.3,544.32 L176.8,545.02 L177.3,545.73 L177.8,546.43 L178.3,547.14 L178.8,547.84 L179.3,548.54 L179.8,549.24 L180.3,549.93 L180.8,550.61 L181.3,551.29 L181.8,551.96 L182.3,552.61 L182.8,553.25 L183.3,553.88 L183.8,554.49 L184.3,555.09 L184.8,555.66 L185.3,556.21 L185.8,556.74 L186.3,557.24 L186.8,557.7 L187.3,558.13 L187.8,558.52 L188.3,558.82 L188.8,559.03 L189.3,559.1 L189.8,559.03 L190.3,558.82 L190.8,558.52 L191.3,558.13 L191.8,557.7 L192.3,557.24 L192.8,556.74 L193.3,556.21 L193.8,555.66 L194.3,555.09 L194.8,554.49 L195.3,553.88 L195.8,553.25 L196.3,552.61 L196.8,551.96 L197.3,551.29 L197.8,550.61 L198.3,549.93 L198.8,549.24 L199.3,548.54 L199.8,547.84 L200.3,547.14 L200.8,546.43 L201.3,545.73 L201.8,545.02 L202.3,544.32 L202.8,543.61 L203.3,542.91 L203.8,542.21 L204.3,541.52 L204.8,540.83 L205.3,540.15 L205.8,539.47 L206.3,538.8 L206.8,538.13 L207.3,537.47 L207.8,536.82 L208.3,536.17 L208.8,535.54 L209.3,534.9 L209.8,534.28 L210.3,533.66 L210.8,533.06 L211.3,532.45 L211.8,531.86 L212.3,531.27 L212.8,530.69 L213.3,530.12 L213.8,529.55 L214.3,528.99 L214.8,528.44 L215.3,527.89 L215.8,527.35 L216.3,526.82 L216.8,526.29 L217.3,525.76 L217.8,525.24 L218.3,524.72 L218.8,524.21 L219.3,523.7 L219.8,523.2 L220.3,522.69 L220.8,522.19 L221.3,521.69 L221.8,521.19 L222.3,520.7 L222.8,520.2 L223.3,519.7 L223.8,519.21 L224.3,518.71 L224.8,518.21 L225.3,517.71 L225.8,517.21 L226.3,516.7 L226.8,516.19 L227.3,515.68 L227.8,515.16 L228.3,514.64 L228.8,514.12 L229.3,513.59 L229.8,513.05 L230.3,512.51 L230.8,511.96 L231.3,511.41 L231.8,510.85 L232.3,510.28 L232.8,509.7 L233.3,509.12 L233.8,508.53 L234.3,507.93 L234.8,507.32 L235.3,506.7 L235.8,506.07 L236.3,505.43 L236.8,504.79 L237.3,504.13 L237.8,503.46 L238.3,502.78 L238.8,502.1 L239.3,501.4 L239.8,500.69 L240.3,499.97 L240.8,499.24 L241.3,498.5 L241.8,497.75 L242.3,496.99 L242.8,496.21 L243.3,495.43 L243.8,494.64 L244.3,493.83 L244.8,493.02 L245.3,492.19 L245.8,491.36 L246.3,490.51 L246.8,489.66 L247.3,488.8 L247.8,487.92 L248.3,487.04 L248.8,486.15 L249.3,485.25 L249.8,484.35 L250.3,483.43 L250.8,482.51 L251.3,481.59 L251.8,480.65 L252.3,479.71 L252.8,478.77 L253.3,477.82 L253.8,476.86 L254.3,475.9 L254.8,474.94 L255.3,473.97 L255.8,473 L256.3,472.03 L256.8,471.06 L257.3,470.09 L257.8,469.12 L258.3,468.15 L258.8,467.18 L259.3,466.21 L259.8,465.24 L260.3,464.28 L260.8,463.32 L261.3,462.37 L261.8,461.42 L262.3,460.48 L262.8,459.54 L263.3,458.62 L263.8,457.7 L264.3,456.79 L264.8,455.89 L265.3,455.01 L265.8,454.16 L266.3,453.37 L266.8,452.71 L267.3,452.24 L267.8,452.02 L268.3,452.07 L268.8,452.37 L269.3,452.88 L269.8,453.56 L270.3,454.37 L270.8,455.31 L271.3,456.36 L271.8,457.52 L272.3,458.78 L272.8,460.13 L273.3,461.58 L273.8,463.11 L274.3,464.72 L274.8,466.4 L275.3,468.16 L275.8,469.97 L276.3,471.84 L276.8,473.77 L277.3,475.75 L277.8,477.77 L278.3,479.83 L278.8,481.92 L279.3,484.05 L279.8,486.2 L280.3,488.38 L280.8,490.58 L281.3,492.79 L281.8,495.01 L282.3,497.24 L282.8,499.48 L283.3,501.72 L283.8,503.96 L284.3,506.19 L284.8,508.42 L285.3,510.63 L285.8,512.84 L286.3,515.03 L286.8,517.2 L287.3,519.35 L287.8,521.48 L288.3,523.58 L288.8,525.66 L289.3,527.71 L289.8,529.74 L290.3,531.73 L290.8,533.69 L291.3,535.62 L291.8,537.51 L292.3,539.37 L292.8,541.19 L293.3,542.97 L293.8,544.71 L294.3,546.42 L294.8,548.09 L295.3,549.71 L295.8,551.3 L296.3,552.85 L296.8,554.36 L297.3,555.83 L297.8,557.26 L298.3,558.65 L298.8,560.01 L299.3,561.33 L299.8,562.61 L300.3,563.85 L300.8,565.06 L301.3,566.24 L301.8,567.39 L302.3,568.5 L302.8,569.59 L303.3,570.65 L303.8,571.68 L304.3,572.69 L304.8,573.66 L305.3,574.59 L305.8,575.45 L306.3,576.18 L306.8,576.74" fill="none" stroke="#1e1628" stroke-width="3.9" stroke-linejoin="round"/>
<path d="M71.8,601.7 L72.3,602.28 L72.8,603.03 L73.3,603.9 L73.8,604.84 L74.3,605.82 L74.8,606.81 L75.3,607.81 L75.8,608.82 L76.3,609.83 L76.8,610.84 L77.3,611.86 L77.8,612.88 L78.3,613.91 L78.8,614.93 L79.3,615.96 L79.8,616.99 L80.3,618.02 L80.8,619.05 L81.3,620.08 L81.8,621.11 L82.3,622.13 L82.8,623.16 L83.3,624.18 L83.8,625.2 L84.3,626.21 L84.8,627.22 L85.3,628.23 L85.8,629.23 L86.3,630.23 L86.8,631.21 L87.3,632.2 L87.8,633.17 L88.3,634.14 L88.8,635.1 L89.3,636.05 L89.8,636.99 L90.3,637.92 L90.8,638.83 L91.3,639.74 L91.8,640.64 L92.3,641.53 L92.8,642.4 L93.3,643.26 L93.8,644.1 L94.3,644.94 L94.8,645.75 L95.3,646.55 L95.8,647.34 L96.3,648.11 L96.8,648.86 L97.3,649.6 L97.8,650.32 L98.3,651.02 L98.8,651.7 L99.3,652.36 L99.8,653 L100.3,653.62 L100.8,654.22 L101.3,654.8 L101.8,655.35 L102.3,655.89 L102.8,656.4 L103.3,656.89 L103.8,657.35 L104.3,657.79 L104.8,658.2 L105.3,658.59 L105.8,658.95 L106.3,659.29 L106.8,659.59 L107.3,659.87 L107.8,660.12 L108.3,660.35 L108.8,660.54 L109.3,660.7 L109.8,660.83 L110.3,660.93 L110.8,660.99 L111.3,661.01 L111.8,660.98 L112.3,660.92 L112.8,660.81 L113.3,660.66 L113.8,660.48 L114.3,660.26 L114.8,660.01 L115.3,659.73 L115.8,659.42 L116.3,659.08 L116.8,658.71 L117.3,658.31 L117.8,657.89 L118.3,657.45 L118.8,656.98 L119.3,656.49 L119.8,655.98 L120.3,655.45 L120.8,654.9 L121.3,654.33 L121.8,653.74 L122.3,653.14 L122.8,652.53 L123.3,651.9 L123.8,651.25 L124.3,650.6 L124.8,649.93 L125.3,649.24 L125.8,648.55 L126.3,647.85 L126.8,647.14 L127.3,646.41 L127.8,645.68 L128.3,644.94 L128.8,644.2 L129.3,643.44 L129.8,642.68 L130.3,641.91 L130.8,641.14 L131.3,640.36 L131.8,639.57 L132.3,638.78 L132.8,637.99 L133.3,637.19 L133.8,636.38 L134.3,635.58 L134.8,634.77 L135.3,633.95 L135.8,633.13 L136.3,632.31 L136.8,631.49 L137.3,630.66 L137.8,629.83 L138.3,629 L138.8,628.17 L139.3,627.33 L139.8,626.5 L140.3,625.66 L140.8,624.82 L141.3,623.98 L141.8,623.14 L142.3,622.29 L142.8,621.45 L143.3,620.61 L143.8,619.76 L144.3,618.91 L144.8,618.07 L145.3,617.22 L145.8,616.38 L146.3,615.53 L146.8,614.68 L147.3,613.83 L147.8,612.99 L148.3,612.14 L148.8,611.29 L149.3,610.45 L149.8,609.6 L150.3,608.76 L150.8,607.92 L151.3,607.07 L151.8,606.23 L152.3,605.39 L152.8,604.55 L153.3,603.71 L153.8,602.88 L154.3,602.04 L154.8,601.21 L155.3,600.38 L155.8,599.55 L156.3,598.72 L156.8,597.9 L157.3,597.08 L157.8,596.26 L158.3,595.44 L158.8,594.63 L159.3,593.82 L159.8,593.01 L160.3,592.21 L160.8,591.41 L161.3,590.61 L161.8,589.82 L162.3,589.04 L162.8,588.25 L163.3,587.48 L163.8,586.71 L164.3,585.94 L164.8,585.18 L165.3,584.42 L165.8,583.67 L166.3,582.93 L166.8,582.19 L167.3,581.47 L167.8,580.74 L168.3,580.03 L168.8,579.32 L169.3,578.62 L169.8,577.93 L170.3,577.25 L170.8,576.57 L171.3,575.91 L171.8,575.25 L172.3,574.61 L172.8,573.97 L173.3,573.34 L173.8,572.73 L174.3,572.12 L174.8,571.53 L175.3,570.95 L175.8,570.38 L176.3,569.82 L176.8,569.27 L177.3,568.74 L177.8,568.22 L178.3,567.71 L178.8,567.22 L179.3,566.74 L179.8,566.28 L180.3,565.83 L180.8,565.39 L181.3,564.97 L181.8,564.56 L182.3,564.17 L182.8,563.8 L183.3,563.44 L183.8,563.1 L184.3,562.77 L184.8,562.47 L185.3,562.17 L185.8,561.9 L186.3,561.64 L186.8,561.41 L187.3,561.19 L187.8,561 L188.3,560.84 L188.8,560.74 L189.3,560.7 L189.8,560.74 L190.3,560.84 L190.8,561 L191.3,561.19 L191.8,561.41 L192.3,561.64 L192.8,561.9 L193.3,562.17 L193.8,562.47 L194.3,562.77 L194.8,563.1 L195.3,563.44 L195.8,563.8 L196.3,564.17 L196.8,564.56 L197.3,564.97 L197.8,565.39 L198.3,565.83 L198.8,566.28 L199.3,566.74 L199.8,567.22 L200.3,567.71 L200.8,568.22 L201.3,568.74 L201.8,569.27 L202.3,569.82 L202.8,570.38 L203.3,570.95 L203.8,571.53 L204.3,572.12 L204.8,572.73 L205.3,573.34 L205.8,573.97 L206.3,574.61 L206.8,575.25 L207.3,575.91 L207.8,576.57 L208.3,577.25 L208.8,577.93 L209.3,578.62 L209.8,579.32 L210.3,580.03 L210.8,580.74 L211.3,581.47 L211.8,582.19 L212.3,582.93 L212.8,583.67 L213.3,584.42 L213.8,585.18 L214.3,585.94 L214.8,586.71 L215.3,587.48 L215.8,588.25 L216.3,589.04 L216.8,589.82 L217.3,590.61 L217.8,591.41 L218.3,592.21 L218.8,593.01 L219.3,593.82 L219.8,594.63 L220.3,595.44 L220.8,596.26 L221.3,597.08 L221.8,597.9 L222.3,598.72 L222.8,599.55 L223.3,600.38 L223.8,601.21 L224.3,602.04 L224.8,602.88 L225.3,603.71 L225.8,604.55 L226.3,605.39 L226.8,606.23 L227.3,607.07 L227.8,607.92 L228.3,608.76 L228.8,609.6 L229.3,610.45 L229.8,611.29 L230.3,612.14 L230.8,612.99 L231.3,613.83 L231.8,614.68 L232.3,615.53 L232.8,616.38 L233.3,617.22 L233.8,618.07 L234.3,618.91 L234.8,619.76 L235.3,620.61 L235.8,621.45 L236.3,622.29 L236.8,623.14 L237.3,623.98 L237.8,624.82 L238.3,625.66 L238.8,626.5 L239.3,627.33 L239.8,628.17 L240.3,629 L240.8,629.83 L241.3,630.66 L241.8,631.49 L242.3,632.31 L242.8,633.13 L243.3,633.95 L243.8,634.77 L244.3,635.58 L244.8,636.38 L245.3,637.19 L245.8,637.99 L246.3,638.78 L246.8,639.57 L247.3,640.36 L247.8,641.14 L248.3,641.91 L248.8,642.68 L249.3,643.44 L249.8,644.2 L250.3,644.94 L250.8,645.68 L251.3,646.41 L251.8,647.14 L252.3,647.85 L252.8,648.55 L253.3,649.24 L253.8,649.93 L254.3,650.6 L254.8,651.25 L255.3,651.9 L255.8,652.53 L256.3,653.14 L256.8,653.74 L257.3,654.33 L257.8,654.9 L258.3,655.45 L258.8,655.98 L259.3,656.49 L259.8,656.98 L260.3,657.45 L260.8,657.89 L261.3,658.31 L261.8,658.71 L262.3,659.08 L262.8,659.42 L263.3,659.73 L263.8,660.01 L264.3,660.26 L264.8,660.48 L265.3,660.66 L265.8,660.81 L266.3,660.92 L266.8,660.98 L267.3,661.01 L267.8,660.99 L268.3,660.93 L268.8,660.83 L269.3,660.7 L269.8,660.54 L270.3,660.35 L270.8,660.12 L271.3,659.87 L271.8,659.59 L272.3,659.29 L272.8,658.95 L273.3,658.59 L273.8,658.2 L274.3,657.79 L274.8,657.35 L275.3,656.89 L275.8,656.4 L276.3,655.89 L276.8,655.35 L277.3,654.8 L277.8,654.22 L278.3,653.62 L278.8,653 L279.3,652.36 L279.8,651.7 L280.3,651.02 L280.8,650.32 L281.3,649.6 L281.8,648.86 L282.3,648.11 L282.8,647.34 L283.3,646.55 L283.8,645.75 L284.3,644.94 L284.8,644.1 L285.3,643.26 L285.8,642.4 L286.3,641.53 L286.8,640.64 L287.3,639.74 L287.8,638.83 L288.3,637.92 L288.8,636.99 L289.3,636.05 L289.8,635.1 L290.3,634.14 L290.8,633.17 L291.3,632.2 L291.8,631.21 L292.3,630.23 L292.8,629.23 L293.3,628.23 L293.8,627.22 L294.3,626.21 L294.8,625.2 L295.3,624.18 L295.8,623.16 L296.3,622.13 L296.8,621.11 L297.3,620.08 L297.8,619.05 L298.3,618.02 L298.8,616.99 L299.3,615.96 L299.8,614.93 L300.3,613.91 L300.8,612.88 L301.3,611.86 L301.8,610.84 L302.3,609.83 L302.8,608.82 L303.3,607.81 L303.8,606.81 L304.3,605.82 L304.8,604.84 L305.3,603.9 L305.8,603.03 L306.3,602.28 L306.8,601.7" fill="none" stroke="#1e1628" stroke-width="3.9" stroke-linejoin="round"/>
<path d="M71.8,729.53 L72.3,729.5 L72.8,729.46 L73.3,729.42 L73.8,729.37 L74.3,729.33 L74.8,729.29 L75.3,729.25 L75.8,729.21 L76.3,729.18 L76.8,729.15 L77.3,729.12 L77.8,729.1 L78.3,729.08 L78.8,729.06 L79.3,729.04 L79.8,729.03 L80.3,729.02 L80.8,729.01 L81.3,729.01 L81.8,729 L82.3,729 L82.8,729.01 L83.3,729.01 L83.8,729.02 L84.3,729.04 L84.8,729.05 L85.3,729.07 L85.8,729.09 L86.3,729.11 L86.8,729.14 L87.3,729.17 L87.8,729.2 L88.3,729.23 L88.8,729.27 L89.3,729.31 L89.8,729.35 L90.3,729.4 L90.8,729.45 L91.3,729.5 L91.8,729.56 L92.3,729.61 L92.8,729.67 L93.3,729.74 L93.8,729.8 L94.3,729.87 L94.8,729.94 L95.3,730.01 L95.8,730.09 L96.3,730.17 L96.8,730.25 L97.3,730.34 L97.8,730.43 L98.3,730.52 L98.8,730.61 L99.3,730.71 L99.8,730.81 L100.3,730.91 L100.8,731.02 L101.3,731.12 L101.8,731.23 L102.3,731.35 L102.8,731.46 L103.3,731.58 L103.8,731.7 L104.3,731.83 L104.8,731.96 L105.3,732.09 L105.8,732.22 L106.3,732.36 L106.8,732.5 L107.3,732.64 L107.8,732.78 L108.3,732.93 L108.8,733.08 L109.3,733.23 L109.8,733.38 L110.3,733.53 L110.8,733.65 L111.3,733.76 L111.8,733.81 L112.3,733.82 L112.8,733.76 L113.3,733.64 L113.8,733.46 L114.3,733.23 L114.8,732.94 L115.3,732.59 L115.8,732.21 L116.3,731.78 L116.8,731.31 L117.3,730.8 L117.8,730.26 L118.3,729.68 L118.8,729.08 L119.3,728.45 L119.8,727.8 L120.3,727.12 L120.8,726.43 L121.3,725.72 L121.8,724.99 L122.3,724.24 L122.8,723.49 L123.3,722.72 L123.8,721.94 L124.3,721.16 L124.8,720.36 L125.3,719.56 L125.8,718.76 L126.3,717.95 L126.8,717.13 L127.3,716.31 L127.8,715.49 L128.3,714.67 L128.8,713.84 L129.3,713.01 L129.8,712.19 L130.3,711.36 L130.8,710.53 L131.3,709.7 L131.8,708.87 L132.3,708.04 L132.8,707.21 L133.3,706.38 L133.8,705.55 L134.3,704.72 L134.8,703.89 L135.3,703.06 L135.8,702.23 L136.3,701.39 L136.8,700.56 L137.3,699.72 L137.8,698.88 L138.3,698.04 L138.8,697.19 L139.3,696.35 L139.8,695.49 L140.3,694.64 L140.8,693.78 L141.3,692.91 L141.8,692.04 L142.3,691.16 L142.8,690.28 L143.3,689.39 L143.8,688.49 L144.3,687.59 L144.8,686.68 L145.3,685.75 L145.8,684.82 L146.3,683.89 L146.8,682.94 L147.3,681.98 L147.8,681.01 L148.3,680.03 L148.8,679.04 L149.3,678.04 L149.8,677.02 L150.3,676 L150.8,674.96 L151.3,673.91 L151.8,672.85 L152.3,671.77 L152.8,670.69 L153.3,669.59 L153.8,668.48 L154.3,667.35 L154.8,666.21 L155.3,665.06 L155.8,663.9 L156.3,662.72 L156.8,661.53 L157.3,660.33 L157.8,659.12 L158.3,657.89 L158.8,656.65 L159.3,655.4 L159.8,654.15 L160.3,652.88 L160.8,651.6 L161.3,650.31 L161.8,649.01 L162.3,647.7 L162.8,646.38 L163.3,645.06 L163.8,643.73 L164.3,642.4 L164.8,641.06 L165.3,639.71 L165.8,638.36 L166.3,637.01 L166.8,635.66 L167.3,634.3 L167.8,632.95 L168.3,631.6 L168.8,630.24 L169.3,628.9 L169.8,627.55 L170.3,626.21 L170.8,624.88 L171.3,623.56 L171.8,622.24 L172.3,620.94 L172.8,619.65 L173.3,618.37 L173.8,617.1 L174.3,615.85 L174.8,614.62 L175.3,613.41 L175.8,612.21 L176.3,611.04 L176.8,609.9 L177.3,608.77 L177.8,607.68 L178.3,606.61 L178.8,605.57 L179.3,604.56 L179.8,603.59 L180.3,602.65 L180.8,601.75 L181.3,600.88 L181.8,600.06 L182.3,599.28 L182.8,598.54 L183.3,597.84 L183.8,597.19 L184.3,596.59 L184.8,596.04 L185.3,595.54 L185.8,595.1 L186.3,594.71 L186.8,594.38 L187.3,594.1 L187.8,593.89 L188.3,593.74 L188.8,593.65 L189.3,593.62 L189.8,593.65 L190.3,593.74 L190.8,593.89 L191.3,594.1 L191.8,594.38 L192.3,594.71 L192.8,595.1 L193.3,595.54 L193.8,596.04 L194.3,596.59 L194.8,597.19 L195.3,597.84 L195.8,598.54 L196.3,599.28 L196.8,600.06 L197.3,600.88 L197.8,601.75 L198.3,602.65 L198.8,603.59 L199.3,604.56 L199.8,605.57 L200.3,606.61 L200.8,607.68 L201.3,608.77 L201.8,609.9 L202.3,611.04 L202.8,612.21 L203.3,613.41 L203.8,614.62 L204.3,615.85 L204.8,617.1 L205.3,618.37 L205.8,619.65 L206.3,620.94 L206.8,622.24 L207.3,623.56 L207.8,624.88 L208.3,626.21 L208.8,627.55 L209.3,628.9 L209.8,630.24 L210.3,631.6 L210.8,632.95 L211.3,634.3 L211.8,635.66 L212.3,637.01 L212.8,638.36 L213.3,639.71 L213.8,641.06 L214.3,642.4 L214.8,643.73 L215.3,645.06 L215.8,646.38 L216.3,647.7 L216.8,649.01 L217.3,650.31 L217.8,651.6 L218.3,652.88 L218.8,654.15 L219.3,655.4 L219.8,656.65 L220.3,657.89 L220.8,659.12 L221.3,660.33 L221.8,661.53 L222.3,662.72 L222.8,663.9 L223.3,665.06 L223.8,666.21 L224.3,667.35 L224.8,668.48 L225.3,669.59 L225.8,670.69 L226.3,671.77 L226.8,672.85 L227.3,673.91 L227.8,674.96 L228.3,676 L228.8,677.02 L229.3,678.04 L229.8,679.04 L230.3,680.03 L230.8,681.01 L231.3,681.98 L231.8,682.94 L232.3,683.89 L232.8,684.82 L233.3,685.75 L233.8,686.68 L234.3,687.59 L234.8,688.49 L235.3,689.39 L235.8,690.28 L236.3,691.16 L236.8,692.04 L237.3,692.91 L237.8,693.78 L238.3,694.64 L238.8,695.49 L239.3,696.35 L239.8,697.19 L240.3,698.04 L240.8,698.88 L241.3,699.72 L241.8,700.56 L242.3,701.39 L242.8,702.23 L243.3,703.06 L243.8,703.89 L244.3,704.72 L244.8,705.55 L245.3,706.38 L245.8,707.21 L246.3,708.04 L246.8,708.87 L247.3,709.7 L247.8,710.53 L248.3,711.36 L248.8,712.19 L249.3,713.01 L249.8,713.84 L250.3,714.67 L250.8,715.49 L251.3,716.31 L251.8,717.13 L252.3,717.95 L252.8,718.76 L253.3,719.56 L253.8,720.36 L254.3,721.16 L254.8,721.94 L255.3,722.72 L255.8,723.49 L256.3,724.24 L256.8,724.99 L257.3,725.72 L257.8,726.43 L258.3,727.12 L258.8,727.8 L259.3,728.45 L259.8,729.08 L260.3,729.68 L260.8,730.26 L261.3,730.8 L261.8,731.31 L262.3,731.78 L262.8,732.21 L263.3,732.59 L263.8,732.94 L264.3,733.23 L264.8,733.46 L265.3,733.64 L265.8,733.76 L266.3,733.82 L266.8,733.81 L267.3,733.76 L267.8,733.65 L268.3,733.53 L268.8,733.38 L269.3,733.23 L269.8,733.08 L270.3,732.93 L270.8,732.78 L271.3,732.64 L271.8,732.5 L272.3,732.36 L272.8,732.22 L273.3,732.09 L273.8,731.96 L274.3,731.83 L274.8,731.7 L275.3,731.58 L275.8,731.46 L276.3,731.35 L276.8,731.23 L277.3,731.12 L277.8,731.02 L278.3,730.91 L278.8,730.81 L279.3,730.71 L279.8,730.61 L280.3,730.52 L280.8,730.43 L281.3,730.34 L281.8,730.25 L282.3,730.17 L282.8,730.09 L283.3,730.01 L283.8,729.94 L284.3,729.87 L284.8,729.8 L285.3,729.74 L285.8,729.67 L286.3,729.61 L286.8,729.56 L287.3,729.5 L287.8,729.45 L288.3,729.4 L288.8,729.35 L289.3,729.31 L289.8,729.27 L290.3,729.23 L290.8,729.2 L291.3,729.17 L291.8,729.14 L292.3,729.11 L292.8,729.09 L293.3,729.07 L293.8,729.05 L294.3,729.04 L294.8,729.02 L295.3,729.01 L295.8,729.01 L296.3,729 L296.8,729 L297.3,729.01 L297.8,729.01 L298.3,729.02 L298.8,729.03 L299.3,729.04 L299.8,729.06 L300.3,729.08 L300.8,729.1 L301.3,729.12 L301.8,729.15 L302.3,729.18 L302.8,729.21 L303.3,729.25 L303.8,729.29 L304.3,729.33 L304.8,729.37 L305.3,729.42 L305.8,729.46 L306.3,729.5 L306.8,729.53" fill="none" stroke="url(#b2_10)" stroke-width="3.9" stroke-linejoin="round"/>
<path d="M71.8,780.69 L72.3,780.69 L72.8,780.67 L73.3,780.66 L73.8,780.63 L74.3,780.6 L74.8,780.56 L75.3,780.52 L75.8,780.47 L76.3,780.42 L76.8,780.36 L77.3,780.3 L77.8,780.23 L78.3,780.15 L78.8,780.07 L79.3,779.98 L79.8,779.89 L80.3,779.79 L80.8,779.69 L81.3,779.58 L81.8,779.47 L82.3,779.36 L82.8,779.24 L83.3,779.11 L83.8,778.98 L84.3,778.85 L84.8,778.71 L85.3,778.57 L85.8,778.42 L86.3,778.27 L86.8,778.12 L87.3,777.96 L87.8,777.8 L88.3,777.64 L88.8,777.47 L89.3,777.3 L89.8,777.12 L90.3,776.95 L90.8,776.76 L91.3,776.58 L91.8,776.39 L92.3,776.21 L92.8,776.01 L93.3,775.82 L93.8,775.62 L94.3,775.42 L94.8,775.22 L95.3,775.02 L95.8,774.81 L96.3,774.6 L96.8,774.39 L97.3,774.18 L97.8,773.97 L98.3,773.75 L98.8,773.54 L99.3,773.32 L99.8,773.1 L100.3,772.88 L100.8,772.66 L101.3,772.44 L101.8,772.21 L102.3,771.99 L102.8,771.76 L103.3,771.54 L103.8,771.31 L104.3,771.09 L104.8,770.86 L105.3,770.63 L105.8,770.4 L106.3,770.17 L106.8,769.95 L107.3,769.72 L107.8,769.49 L108.3,769.27 L108.8,769.04 L109.3,768.82 L109.8,768.62 L110.3,768.44 L110.8,768.32 L111.3,768.27 L111.8,768.3 L112.3,768.4 L112.8,768.55 L113.3,768.74 L113.8,768.97 L114.3,769.23 L114.8,769.51 L115.3,769.81 L115.8,770.14 L116.3,770.48 L116.8,770.85 L117.3,771.23 L117.8,771.63 L118.3,772.05 L118.8,772.49 L119.3,772.93 L119.8,773.4 L120.3,773.87 L120.8,774.36 L121.3,774.86 L121.8,775.37 L122.3,775.88 L122.8,776.41 L123.3,776.95 L123.8,777.49 L124.3,778.04 L124.8,778.59 L125.3,779.16 L125.8,779.72 L126.3,780.29 L126.8,780.86 L127.3,781.44 L127.8,782.02 L128.3,782.6 L128.8,783.19 L129.3,783.77 L129.8,784.35 L130.3,784.94 L130.8,785.53 L131.3,786.11 L131.8,786.69 L132.3,787.28 L132.8,787.86 L133.3,788.44 L133.8,789.02 L134.3,789.59 L134.8,790.16 L135.3,790.73 L135.8,791.3 L136.3,791.86 L136.8,792.42 L137.3,792.98 L137.8,793.53 L138.3,794.08 L138.8,794.62 L139.3,795.16 L139.8,795.69 L140.3,796.22 L140.8,796.75 L141.3,797.27 L141.8,797.78 L142.3,798.29 L142.8,798.8 L143.3,799.3 L143.8,799.79 L144.3,800.28 L144.8,800.77 L145.3,801.24 L145.8,801.72 L146.3,802.19 L146.8,802.65 L147.3,803.1 L147.8,803.56 L148.3,804 L148.8,804.44 L149.3,804.88 L149.8,805.31 L150.3,805.73 L150.8,806.15 L151.3,806.56 L151.8,806.97 L152.3,807.38 L152.8,807.77 L153.3,808.17 L153.8,808.56 L154.3,808.94 L154.8,809.32 L155.3,809.69 L155.8,810.06 L156.3,810.42 L156.8,810.78 L157.3,811.13 L157.8,811.48 L158.3,811.82 L158.8,812.16 L159.3,812.5 L159.8,812.83 L160.3,813.15 L160.8,813.47 L161.3,813.79 L161.8,814.1 L162.3,814.41 L162.8,814.71 L163.3,815.01 L163.8,815.31 L164.3,815.6 L164.8,815.89 L165.3,816.17 L165.8,816.45 L166.3,816.73 L166.8,817 L167.3,817.26 L167.8,817.53 L168.3,817.79 L168.8,818.04 L169.3,818.29 L169.8,818.54 L170.3,818.78 L170.8,819.02 L171.3,819.25 L171.8,819.48 L172.3,819.71 L172.8,819.93 L173.3,820.15 L173.8,820.36 L174.3,820.57 L174.8,820.77 L175.3,820.97 L175.8,821.16 L176.3,821.35 L176.8,821.54 L177.3,821.72 L177.8,821.89 L178.3,822.06 L178.8,822.22 L179.3,822.38 L179.8,822.53 L180.3,822.68 L180.8,822.82 L181.3,822.95 L181.8,823.08 L182.3,823.2 L182.8,823.31 L183.3,823.42 L183.8,823.52 L184.3,823.62 L184.8,823.7 L185.3,823.78 L185.8,823.85 L186.3,823.91 L186.8,823.96 L187.3,824 L187.8,824.04 L188.3,824.06 L188.8,824.08 L189.3,824.08 L189.8,824.08 L190.3,824.06 L190.8,824.04 L191.3,824 L191.8,823.96 L192.3,823.91 L192.8,823.85 L193.3,823.78 L193.8,823.7 L194.3,823.62 L194.8,823.52 L195.3,823.42 L195.8,823.31 L196.3,823.2 L196.8,823.08 L197.3,822.95 L197.8,822.82 L198.3,822.68 L198.8,822.53 L199.3,822.38 L199.8,822.22 L200.3,822.06 L200.8,821.89 L201.3,821.72 L201.8,821.54 L202.3,821.35 L202.8,821.16 L203.3,820.97 L203.8,820.77 L204.3,820.57 L204.8,820.36 L205.3,820.15 L205.8,819.93 L206.3,819.71 L206.8,819.48 L207.3,819.25 L207.8,819.02 L208.3,818.78 L208.8,818.54 L209.3,818.29 L209.8,818.04 L210.3,817.79 L210.8,817.53 L211.3,817.26 L211.8,817 L212.3,816.73 L212.8,816.45 L213.3,816.17 L213.8,815.89 L214.3,815.6 L214.8,815.31 L215.3,815.01 L215.8,814.71 L216.3,814.41 L216.8,814.1 L217.3,813.79 L217.8,813.47 L218.3,813.15 L218.8,812.83 L219.3,812.5 L219.8,812.16 L220.3,811.82 L220.8,811.48 L221.3,811.13 L221.8,810.78 L222.3,810.42 L222.8,810.06 L223.3,809.69 L223.8,809.32 L224.3,808.94 L224.8,808.56 L225.3,808.17 L225.8,807.77 L226.3,807.38 L226.8,806.97 L227.3,806.56 L227.8,806.15 L228.3,805.73 L228.8,805.31 L229.3,804.88 L229.8,804.44 L230.3,804 L230.8,803.56 L231.3,803.1 L231.8,802.65 L232.3,802.19 L232.8,801.72 L233.3,801.24 L233.8,800.77 L234.3,800.28 L234.8,799.79 L235.3,799.3 L235.8,798.8 L236.3,798.29 L236.8,797.78 L237.3,797.27 L237.8,796.75 L238.3,796.22 L238.8,795.69 L239.3,795.16 L239.8,794.62 L240.3,794.08 L240.8,793.53 L241.3,792.98 L241.8,792.42 L242.3,791.86 L242.8,791.3 L243.3,790.73 L243.8,790.16 L244.3,789.59 L244.8,789.02 L245.3,788.44 L245.8,787.86 L246.3,787.28 L246.8,786.69 L247.3,786.11 L247.8,785.53 L248.3,784.94 L248.8,784.35 L249.3,783.77 L249.8,783.19 L250.3,782.6 L250.8,782.02 L251.3,781.44 L251.8,780.86 L252.3,780.29 L252.8,779.72 L253.3,779.16 L253.8,778.59 L254.3,778.04 L254.8,777.49 L255.3,776.95 L255.8,776.41 L256.3,775.88 L256.8,775.37 L257.3,774.86 L257.8,774.36 L258.3,773.87 L258.8,773.4 L259.3,772.93 L259.8,772.49 L260.3,772.05 L260.8,771.63 L261.3,771.23 L261.8,770.85 L262.3,770.48 L262.8,770.14 L263.3,769.81 L263.8,769.51 L264.3,769.23 L264.8,768.97 L265.3,768.74 L265.8,768.55 L266.3,768.4 L266.8,768.3 L267.3,768.27 L267.8,768.32 L268.3,768.44 L268.8,768.62 L269.3,768.82 L269.8,769.04 L270.3,769.27 L270.8,769.49 L271.3,769.72 L271.8,769.95 L272.3,770.17 L272.8,770.4 L273.3,770.63 L273.8,770.86 L274.3,771.09 L274.8,771.31 L275.3,771.54 L275.8,771.76 L276.3,771.99 L276.8,772.21 L277.3,772.44 L277.8,772.66 L278.3,772.88 L278.8,773.1 L279.3,773.32 L279.8,773.54 L280.3,773.75 L280.8,773.97 L281.3,774.18 L281.8,774.39 L282.3,774.6 L282.8,774.81 L283.3,775.02 L283.8,775.22 L284.3,775.42 L284.8,775.62 L285.3,775.82 L285.8,776.01 L286.3,776.21 L286.8,776.39 L287.3,776.58 L287.8,776.76 L288.3,776.95 L288.8,777.12 L289.3,777.3 L289.8,777.47 L290.3,777.64 L290.8,777.8 L291.3,777.96 L291.8,778.12 L292.3,778.27 L292.8,778.42 L293.3,778.57 L293.8,778.71 L294.3,778.85 L294.8,778.98 L295.3,779.11 L295.8,779.24 L296.3,779.36 L296.8,779.47 L297.3,779.58 L297.8,779.69 L298.3,779.79 L298.8,779.89 L299.3,779.98 L299.8,780.07 L300.3,780.15 L300.8,780.23 L301.3,780.3 L301.8,780.36 L302.3,780.42 L302.8,780.47 L303.3,780.52 L303.8,780.56 L304.3,780.6 L304.8,780.63 L305.3,780.66 L305.8,780.67 L306.3,780.69 L306.8,780.69" fill="none" stroke="url(#b1_10)" stroke-width="3.9" stroke-linejoin="round"/>
<line x1="110.9" y1="406.28" x2="110.9" y2="834.36" stroke="#e2e2e2" stroke-width="1.6"/>
<line x1="189.3" y1="406.28" x2="189.3" y2="834.36" stroke="#e2e2e2" stroke-width="1.6"/>
<line x1="267.7" y1="406.28" x2="267.7" y2="834.36" stroke="#e2e2e2" stroke-width="1.6"/>
</g>
<rect x="59.93" y="406.28" width="258.47" height="428.08" fill="none" stroke="#666" stroke-width="1.2"/>
<line x1="59.93" y1="824.1" x2="64.43" y2="824.1" stroke="#222" stroke-width="1.6"/>
<line x1="59.93" y1="774.91" x2="64.43" y2="774.91" stroke="#222" stroke-width="1.6"/>
<line x1="59.93" y1="725.72" x2="64.43" y2="725.72" stroke="#222" stroke-width="1.6"/>
<line x1="59.93" y1="676.53" x2="64.43" y2="676.53" stroke="#222" stroke-width="1.6"/>
<line x1="59.93" y1="627.34" x2="64.43" y2="627.34" stroke="#222" stroke-width="1.6"/>
<line x1="59.93" y1="578.15" x2="64.43" y2="578.15" stroke="#222" stroke-width="1.6"/>
<line x1="59.93" y1="528.96" x2="64.43" y2="528.96" stroke="#222" stroke-width="1.6"/>
<line x1="59.93" y1="479.77" x2="64.43" y2="479.77" stroke="#222" stroke-width="1.6"/>
<line x1="59.93" y1="430.58" x2="64.43" y2="430.58" stroke="#222" stroke-width="1.6"/>
<line x1="110.9" y1="834.36" x2="110.9" y2="829.86" stroke="#222" stroke-width="1.6"/>
<line x1="189.3" y1="834.36" x2="189.3" y2="829.86" stroke="#222" stroke-width="1.6"/>
<line x1="267.7" y1="834.36" x2="267.7" y2="829.86" stroke="#222" stroke-width="1.6"/>
<rect x="98.7" y="849.7" width="11.7" height="1.5" fill="#111"/>
<text x="112.5" y="855.8" font-size="19.5" font-style="italic">κ</text>
<text x="189.3" y="855.8" font-size="19.5" text-anchor="middle" font-style="italic">γ</text>
<text x="267.7" y="855.8" font-size="19.5" text-anchor="middle" font-style="italic">κ</text>
<text x="189.8" y="878.3" font-size="19" text-anchor="middle" textLength="107" lengthAdjust="spacingAndGlyphs">Momentum</text>
<g clip-path="url(#cc)">
<line x1="366.98" y1="523.4" x2="624.95" y2="523.4" stroke="#e9a021" stroke-width="3" stroke-dasharray="21.7 11"/>
<path d="M400.3,399.65 L400.8,400.58 L401.3,401.81 L401.8,403.27 L402.3,404.86 L402.8,406.54 L403.3,408.25 L403.8,409.98 L404.3,411.72 L404.8,413.44 L405.3,415.15 L405.8,416.82 L406.3,418.45 L406.8,420.04 L407.3,421.56 L407.8,423.03 L408.3,424.42 L408.8,425.75 L409.3,426.99 L409.8,428.15 L410.3,429.23 L410.8,430.21 L411.3,431.12 L411.8,431.93 L412.3,432.65 L412.8,433.29 L413.3,433.84 L413.8,434.32 L414.3,434.71 L414.8,435.03 L415.3,435.3 L415.8,435.52 L416.3,435.74 L416.8,435.99 L417.3,436.33 L417.8,436.76 L418.3,437.3 L418.8,437.91 L419.3,438.57 L419.8,439.27 L420.3,440 L420.8,440.76 L421.3,441.53 L421.8,442.33 L422.3,443.14 L422.8,443.96 L423.3,444.8 L423.8,445.64 L424.3,446.5 L424.8,447.37 L425.3,448.24 L425.8,449.12 L426.3,450 L426.8,450.88 L427.3,451.77 L427.8,452.65 L428.3,453.54 L428.8,454.42 L429.3,455.3 L429.8,456.18 L430.3,457.06 L430.8,457.93 L431.3,458.8 L431.8,459.66 L432.3,460.51 L432.8,461.36 L433.3,462.2 L433.8,463.04 L434.3,463.87 L434.8,464.69 L435.3,465.5 L435.8,466.31 L436.3,467.11 L436.8,467.9 L437.3,468.68 L437.8,469.45 L438.3,470.21 L438.8,470.97 L439.3,471.72 L439.8,472.45 L440.3,473.18 L440.8,473.9 L441.3,474.61 L441.8,475.32 L442.3,476.01 L442.8,476.7 L443.3,477.37 L443.8,478.04 L444.3,478.7 L444.8,479.36 L445.3,480 L445.8,480.64 L446.3,481.26 L446.8,481.88 L447.3,482.49 L447.8,483.1 L448.3,483.69 L448.8,484.28 L449.3,484.86 L449.8,485.43 L450.3,486 L450.8,486.55 L451.3,487.1 L451.8,487.64 L452.3,488.17 L452.8,488.7 L453.3,489.22 L453.8,489.72 L454.3,490.22 L454.8,490.72 L455.3,491.2 L455.8,491.68 L456.3,492.14 L456.8,492.6 L457.3,493.05 L457.8,493.49 L458.3,493.92 L458.8,494.35 L459.3,494.76 L459.8,495.16 L460.3,495.56 L460.8,495.94 L461.3,496.31 L461.8,496.68 L462.3,497.03 L462.8,497.37 L463.3,497.7 L463.8,498.02 L464.3,498.32 L464.8,498.62 L465.3,498.9 L465.8,499.17 L466.3,499.42 L466.8,499.67 L467.3,499.9 L467.8,500.11 L468.3,500.32 L468.8,500.5 L469.3,500.68 L469.8,500.84 L470.3,500.98 L470.8,501.11 L471.3,501.22 L471.8,501.32 L472.3,501.4 L472.8,501.47 L473.3,501.52 L473.8,501.55 L474.3,501.57 L474.8,501.57 L475.3,501.56 L475.8,501.53 L476.3,501.48 L476.8,501.42 L477.3,501.34 L477.8,501.25 L478.3,501.13 L478.8,501.01 L479.3,500.87 L479.8,500.71 L480.3,500.54 L480.8,500.35 L481.3,500.15 L481.8,499.94 L482.3,499.72 L482.8,499.48 L483.3,499.23 L483.8,498.97 L484.3,498.71 L484.8,498.43 L485.3,498.15 L485.8,497.86 L486.3,497.56 L486.8,497.27 L487.3,496.97 L487.8,496.66 L488.3,496.36 L488.8,496.06 L489.3,495.77 L489.8,495.48 L490.3,495.2 L490.8,494.93 L491.3,494.68 L491.8,494.44 L492.3,494.21 L492.8,494.01 L493.3,493.83 L493.8,493.67 L494.3,493.55 L494.8,493.46 L495.3,493.4 L495.9,493.38 L496.4,493.4 L496.9,493.46 L497.4,493.55 L497.9,493.67 L498.4,493.83 L498.9,494.01 L499.4,494.21 L499.9,494.44 L500.4,494.68 L500.9,494.93 L501.4,495.2 L501.9,495.48 L502.4,495.77 L502.9,496.06 L503.4,496.36 L503.9,496.66 L504.4,496.97 L504.9,497.27 L505.4,497.56 L505.9,497.86 L506.4,498.15 L506.9,498.43 L507.4,498.71 L507.9,498.97 L508.4,499.23 L508.9,499.48 L509.4,499.72 L509.9,499.94 L510.4,500.15 L510.9,500.35 L511.4,500.54 L511.9,500.71 L512.4,500.87 L512.9,501.01 L513.4,501.13 L513.9,501.25 L514.4,501.34 L514.9,501.42 L515.4,501.48 L515.9,501.53 L516.4,501.56 L516.9,501.57 L517.4,501.57 L517.9,501.55 L518.4,501.52 L518.9,501.47 L519.4,501.4 L519.9,501.32 L520.4,501.22 L520.9,501.11 L521.4,500.98 L521.9,500.84 L522.4,500.68 L522.9,500.5 L523.4,500.32 L523.9,500.11 L524.4,499.9 L524.9,499.67 L525.4,499.42 L525.9,499.17 L526.4,498.9 L526.9,498.62 L527.4,498.32 L527.9,498.02 L528.4,497.7 L528.9,497.37 L529.4,497.03 L529.9,496.68 L530.4,496.31 L530.9,495.94 L531.4,495.56 L531.9,495.16 L532.4,494.76 L532.9,494.35 L533.4,493.92 L533.9,493.49 L534.4,493.05 L534.9,492.6 L535.4,492.14 L535.9,491.68 L536.4,491.2 L536.9,490.72 L537.4,490.22 L537.9,489.72 L538.4,489.22 L538.9,488.7 L539.4,488.17 L539.9,487.64 L540.4,487.1 L540.9,486.55 L541.4,486 L541.9,485.43 L542.4,484.86 L542.9,484.28 L543.4,483.69 L543.9,483.1 L544.4,482.49 L544.9,481.88 L545.4,481.26 L545.9,480.64 L546.4,480 L546.9,479.36 L547.4,478.7 L547.9,478.04 L548.4,477.37 L548.9,476.7 L549.4,476.01 L549.9,475.32 L550.4,474.61 L550.9,473.9 L551.4,473.18 L551.9,472.45 L552.4,471.72 L552.9,470.97 L553.4,470.21 L553.9,469.45 L554.4,468.68 L554.9,467.9 L555.4,467.11 L555.9,466.31 L556.4,465.5 L556.9,464.69 L557.4,463.87 L557.9,463.04 L558.4,462.2 L558.9,461.36 L559.4,460.51 L559.9,459.66 L560.4,458.8 L560.9,457.93 L561.4,457.06 L561.9,456.18 L562.4,455.3 L562.9,454.42 L563.4,453.54 L563.9,452.65 L564.4,451.77 L564.9,450.88 L565.4,450 L565.9,449.12 L566.4,448.24 L566.9,447.37 L567.4,446.5 L567.9,445.64 L568.4,444.8 L568.9,443.96 L569.4,443.14 L569.9,442.33 L570.4,441.53 L570.9,440.76 L571.4,440 L571.9,439.27 L572.4,438.57 L572.9,437.91 L573.4,437.3 L573.9,436.76 L574.4,436.33 L574.9,435.99 L575.4,435.74 L575.9,435.52 L576.4,435.3 L576.9,435.03 L577.4,434.71 L577.9,434.32 L578.4,433.84 L578.9,433.29 L579.4,432.65 L579.9,431.93 L580.4,431.12 L580.9,430.21 L581.4,429.23 L581.9,428.15 L582.4,426.99 L582.9,425.75 L583.4,424.42 L583.9,423.03 L584.4,421.56 L584.9,420.04 L585.4,418.45 L585.9,416.82 L586.4,415.15 L586.9,413.44 L587.4,411.72 L587.9,409.98 L588.4,408.25 L588.9,406.54 L589.4,404.86 L589.9,403.27 L590.4,401.81 L590.9,400.58 L591.4,399.65" fill="none" stroke="#1e1628" stroke-width="3.9" stroke-linejoin="round"/>
<path d="M378.35,576.74 L378.85,576.18 L379.35,575.45 L379.85,574.59 L380.35,573.66 L380.85,572.69 L381.35,571.68 L381.85,570.65 L382.35,569.59 L382.85,568.5 L383.35,567.39 L383.85,566.24 L384.35,565.06 L384.85,563.85 L385.35,562.61 L385.85,561.33 L386.35,560.01 L386.85,558.65 L387.35,557.26 L387.85,555.83 L388.35,554.36 L388.85,552.85 L389.35,551.3 L389.85,549.71 L390.35,548.09 L390.85,546.42 L391.35,544.71 L391.85,542.97 L392.35,541.19 L392.85,539.37 L393.35,537.51 L393.85,535.62 L394.35,533.69 L394.85,531.73 L395.35,529.74 L395.85,527.71 L396.35,525.66 L396.85,523.58 L397.35,521.48 L397.85,519.35 L398.35,517.2 L398.85,515.03 L399.35,512.84 L399.85,510.63 L400.35,508.42 L400.85,506.19 L401.35,503.96 L401.85,501.72 L402.35,499.48 L402.85,497.24 L403.35,495.01 L403.85,492.79 L404.35,490.58 L404.85,488.38 L405.35,486.2 L405.85,484.05 L406.35,481.92 L406.85,479.83 L407.35,477.77 L407.85,475.75 L408.35,473.77 L408.85,471.84 L409.35,469.97 L409.85,468.16 L410.35,466.4 L410.85,464.72 L411.35,463.11 L411.85,461.58 L412.35,460.13 L412.85,458.78 L413.35,457.52 L413.85,456.36 L414.35,455.31 L414.85,454.37 L415.35,453.56 L415.85,452.88 L416.35,452.37 L416.85,452.07 L417.35,452.02 L417.85,452.24 L418.35,452.71 L418.85,453.37 L419.35,454.16 L419.85,455.01 L420.35,455.89 L420.85,456.79 L421.35,457.7 L421.85,458.62 L422.35,459.54 L422.85,460.48 L423.35,461.42 L423.85,462.37 L424.35,463.32 L424.85,464.28 L425.35,465.24 L425.85,466.21 L426.35,467.18 L426.85,468.15 L427.35,469.12 L427.85,470.09 L428.35,471.06 L428.85,472.03 L429.35,473 L429.85,473.97 L430.35,474.94 L430.85,475.9 L431.35,476.86 L431.85,477.82 L432.35,478.77 L432.85,479.71 L433.35,480.65 L433.85,481.59 L434.35,482.51 L434.85,483.43 L435.35,484.35 L435.85,485.25 L436.35,486.15 L436.85,487.04 L437.35,487.92 L437.85,488.8 L438.35,489.66 L438.85,490.51 L439.35,491.36 L439.85,492.19 L440.35,493.02 L440.85,493.83 L441.35,494.64 L441.85,495.43 L442.35,496.21 L442.85,496.99 L443.35,497.75 L443.85,498.5 L444.35,499.24 L444.85,499.97 L445.35,500.69 L445.85,501.4 L446.35,502.1 L446.85,502.78 L447.35,503.46 L447.85,504.13 L448.35,504.79 L448.85,505.43 L449.35,506.07 L449.85,506.7 L450.35,507.32 L450.85,507.93 L451.35,508.53 L451.85,509.12 L452.35,509.7 L452.85,510.28 L453.35,510.85 L453.85,511.41 L454.35,511.96 L454.85,512.51 L455.35,513.05 L455.85,513.59 L456.35,514.12 L456.85,514.64 L457.35,515.16 L457.85,515.68 L458.35,516.19 L458.85,516.7 L459.35,517.21 L459.85,517.71 L460.35,518.21 L460.85,518.71 L461.35,519.21 L461.85,519.7 L462.35,520.2 L462.85,520.7 L463.35,521.19 L463.85,521.69 L464.35,522.19 L464.85,522.69 L465.35,523.2 L465.85,523.7 L466.35,524.21 L466.85,524.72 L467.35,525.24 L467.85,525.76 L468.35,526.29 L468.85,526.82 L469.35,527.35 L469.85,527.89 L470.35,528.44 L470.85,528.99 L471.35,529.55 L471.85,530.12 L472.35,530.69 L472.85,531.27 L473.35,531.86 L473.85,532.45 L474.35,533.06 L474.85,533.66 L475.35,534.28 L475.85,534.9 L476.35,535.54 L476.85,536.17 L477.35,536.82 L477.85,537.47 L478.35,538.13 L478.85,538.8 L479.35,539.47 L479.85,540.15 L480.35,540.83 L480.85,541.52 L481.35,542.21 L481.85,542.91 L482.35,543.61 L482.85,544.32 L483.35,545.02 L483.85,545.73 L484.35,546.43 L484.85,547.14 L485.35,547.84 L485.85,548.54 L486.35,549.24 L486.85,549.93 L487.35,550.61 L487.85,551.29 L488.35,551.96 L488.85,552.61 L489.35,553.25 L489.85,553.88 L490.35,554.49 L490.85,555.09 L491.35,555.66 L491.85,556.21 L492.35,556.74 L492.85,557.24 L493.35,557.7 L493.85,558.13 L494.35,558.52 L494.85,558.82 L495.35,559.03 L495.85,559.1 L496.35,559.03 L496.85,558.82 L497.35,558.52 L497.85,558.13 L498.35,557.7 L498.85,557.24 L499.35,556.74 L499.85,556.21 L500.35,555.66 L500.85,555.09 L501.35,554.49 L501.85,553.88 L502.35,553.25 L502.85,552.61 L503.35,551.96 L503.85,551.29 L504.35,550.61 L504.85,549.93 L505.35,549.24 L505.85,548.54 L506.35,547.84 L506.85,547.14 L507.35,546.43 L507.85,545.73 L508.35,545.02 L508.85,544.32 L509.35,543.61 L509.85,542.91 L510.35,542.21 L510.85,541.52 L511.35,540.83 L511.85,540.15 L512.35,539.47 L512.85,538.8 L513.35,538.13 L513.85,537.47 L514.35,536.82 L514.85,536.17 L515.35,535.54 L515.85,534.9 L516.35,534.28 L516.85,533.66 L517.35,533.06 L517.85,532.45 L518.35,531.86 L518.85,531.27 L519.35,530.69 L519.85,530.12 L520.35,529.55 L520.85,528.99 L521.35,528.44 L521.85,527.89 L522.35,527.35 L522.85,526.82 L523.35,526.29 L523.85,525.76 L524.35,525.24 L524.85,524.72 L525.35,524.21 L525.85,523.7 L526.35,523.2 L526.85,522.69 L527.35,522.19 L527.85,521.69 L528.35,521.19 L528.85,520.7 L529.35,520.2 L529.85,519.7 L530.35,519.21 L530.85,518.71 L531.35,518.21 L531.85,517.71 L532.35,517.21 L532.85,516.7 L533.35,516.19 L533.85,515.68 L534.35,515.16 L534.85,514.64 L535.35,514.12 L535.85,513.59 L536.35,513.05 L536.85,512.51 L537.35,511.96 L537.85,511.41 L538.35,510.85 L538.85,510.28 L539.35,509.7 L539.85,509.12 L540.35,508.53 L540.85,507.93 L541.35,507.32 L541.85,506.7 L542.35,506.07 L542.85,505.43 L543.35,504.79 L543.85,504.13 L544.35,503.46 L544.85,502.78 L545.35,502.1 L545.85,501.4 L546.35,500.69 L546.85,499.97 L547.35,499.24 L547.85,498.5 L548.35,497.75 L548.85,496.99 L549.35,496.21 L549.85,495.43 L550.35,494.64 L550.85,493.83 L551.35,493.02 L551.85,492.19 L552.35,491.36 L552.85,490.51 L553.35,489.66 L553.85,488.8 L554.35,487.92 L554.85,487.04 L555.35,486.15 L555.85,485.25 L556.35,484.35 L556.85,483.43 L557.35,482.51 L557.85,481.59 L558.35,480.65 L558.85,479.71 L559.35,478.77 L559.85,477.82 L560.35,476.86 L560.85,475.9 L561.35,474.94 L561.85,473.97 L562.35,473 L562.85,472.03 L563.35,471.06 L563.85,470.09 L564.35,469.12 L564.85,468.15 L565.35,467.18 L565.85,466.21 L566.35,465.24 L566.85,464.28 L567.35,463.32 L567.85,462.37 L568.35,461.42 L568.85,460.48 L569.35,459.54 L569.85,458.62 L570.35,457.7 L570.85,456.79 L571.35,455.89 L571.85,455.01 L572.35,454.16 L572.85,453.37 L573.35,452.71 L573.85,452.24 L574.35,452.02 L574.85,452.07 L575.35,452.37 L575.85,452.88 L576.35,453.56 L576.85,454.37 L577.35,455.31 L577.85,456.36 L578.35,457.52 L578.85,458.78 L579.35,460.13 L579.85,461.58 L580.35,463.11 L580.85,464.72 L581.35,466.4 L581.85,468.16 L582.35,469.97 L582.85,471.84 L583.35,473.77 L583.85,475.75 L584.35,477.77 L584.85,479.83 L585.35,481.92 L585.85,484.05 L586.35,486.2 L586.85,488.38 L587.35,490.58 L587.85,492.79 L588.35,495.01 L588.85,497.24 L589.35,499.48 L589.85,501.72 L590.35,503.96 L590.85,506.19 L591.35,508.42 L591.85,510.63 L592.35,512.84 L592.85,515.03 L593.35,517.2 L593.85,519.35 L594.35,521.48 L594.85,523.58 L595.35,525.66 L595.85,527.71 L596.35,529.74 L596.85,531.73 L597.35,533.69 L597.85,535.62 L598.35,537.51 L598.85,539.37 L599.35,541.19 L599.85,542.97 L600.35,544.71 L600.85,546.42 L601.35,548.09 L601.85,549.71 L602.35,551.3 L602.85,552.85 L603.35,554.36 L603.85,555.83 L604.35,557.26 L604.85,558.65 L605.35,560.01 L605.85,561.33 L606.35,562.61 L606.85,563.85 L607.35,565.06 L607.85,566.24 L608.35,567.39 L608.85,568.5 L609.35,569.59 L609.85,570.65 L610.35,571.68 L610.85,572.69 L611.35,573.66 L611.85,574.59 L612.35,575.45 L612.85,576.18 L613.35,576.74" fill="none" stroke="#1e1628" stroke-width="3.9" stroke-linejoin="round"/>
<path d="M378.35,601.7 L378.85,602.28 L379.35,603.03 L379.85,603.9 L380.35,604.84 L380.85,605.82 L381.35,606.81 L381.85,607.81 L382.35,608.82 L382.85,609.83 L383.35,610.84 L383.85,611.86 L384.35,612.88 L384.85,613.91 L385.35,614.93 L385.85,615.96 L386.35,616.99 L386.85,618.02 L387.35,619.05 L387.85,620.08 L388.35,621.11 L388.85,622.13 L389.35,623.16 L389.85,624.18 L390.35,625.2 L390.85,626.21 L391.35,627.22 L391.85,628.23 L392.35,629.23 L392.85,630.23 L393.35,631.21 L393.85,632.2 L394.35,633.17 L394.85,634.14 L395.35,635.1 L395.85,636.05 L396.35,636.99 L396.85,637.92 L397.35,638.83 L397.85,639.74 L398.35,640.64 L398.85,641.53 L399.35,642.4 L399.85,643.26 L400.35,644.1 L400.85,644.94 L401.35,645.75 L401.85,646.55 L402.35,647.34 L402.85,648.11 L403.35,648.86 L403.85,649.6 L404.35,650.32 L404.85,651.02 L405.35,651.7 L405.85,652.36 L406.35,653 L406.85,653.62 L407.35,654.22 L407.85,654.8 L408.35,655.35 L408.85,655.89 L409.35,656.4 L409.85,656.89 L410.35,657.35 L410.85,657.79 L411.35,658.2 L411.85,658.59 L412.35,658.95 L412.85,659.29 L413.35,659.59 L413.85,659.87 L414.35,660.12 L414.85,660.35 L415.35,660.54 L415.85,660.7 L416.35,660.83 L416.85,660.93 L417.35,660.99 L417.85,661.01 L418.35,660.98 L418.85,660.92 L419.35,660.81 L419.85,660.66 L420.35,660.48 L420.85,660.26 L421.35,660.01 L421.85,659.73 L422.35,659.42 L422.85,659.08 L423.35,658.71 L423.85,658.31 L424.35,657.89 L424.85,657.45 L425.35,656.98 L425.85,656.49 L426.35,655.98 L426.85,655.45 L427.35,654.9 L427.85,654.33 L428.35,653.74 L428.85,653.14 L429.35,652.53 L429.85,651.9 L430.35,651.25 L430.85,650.6 L431.35,649.93 L431.85,649.24 L432.35,648.55 L432.85,647.85 L433.35,647.14 L433.85,646.41 L434.35,645.68 L434.85,644.94 L435.35,644.2 L435.85,643.44 L436.35,642.68 L436.85,641.91 L437.35,641.14 L437.85,640.36 L438.35,639.57 L438.85,638.78 L439.35,637.99 L439.85,637.19 L440.35,636.38 L440.85,635.58 L441.35,634.77 L441.85,633.95 L442.35,633.13 L442.85,632.31 L443.35,631.49 L443.85,630.66 L444.35,629.83 L444.85,629 L445.35,628.17 L445.85,627.33 L446.35,626.5 L446.85,625.66 L447.35,624.82 L447.85,623.98 L448.35,623.14 L448.85,622.29 L449.35,621.45 L449.85,620.61 L450.35,619.76 L450.85,618.91 L451.35,618.07 L451.85,617.22 L452.35,616.38 L452.85,615.53 L453.35,614.68 L453.85,613.83 L454.35,612.99 L454.85,612.14 L455.35,611.29 L455.85,610.45 L456.35,609.6 L456.85,608.76 L457.35,607.92 L457.85,607.07 L458.35,606.23 L458.85,605.39 L459.35,604.55 L459.85,603.71 L460.35,602.88 L460.85,602.04 L461.35,601.21 L461.85,600.38 L462.35,599.55 L462.85,598.72 L463.35,597.9 L463.85,597.08 L464.35,596.26 L464.85,595.44 L465.35,594.63 L465.85,593.82 L466.35,593.01 L466.85,592.21 L467.35,591.41 L467.85,590.61 L468.35,589.82 L468.85,589.04 L469.35,588.25 L469.85,587.48 L470.35,586.71 L470.85,585.94 L471.35,585.18 L471.85,584.42 L472.35,583.67 L472.85,582.93 L473.35,582.19 L473.85,581.47 L474.35,580.74 L474.85,580.03 L475.35,579.32 L475.85,578.62 L476.35,577.93 L476.85,577.25 L477.35,576.57 L477.85,575.91 L478.35,575.25 L478.85,574.61 L479.35,573.97 L479.85,573.34 L480.35,572.73 L480.85,572.12 L481.35,571.53 L481.85,570.95 L482.35,570.38 L482.85,569.82 L483.35,569.27 L483.85,568.74 L484.35,568.22 L484.85,567.71 L485.35,567.22 L485.85,566.74 L486.35,566.28 L486.85,565.83 L487.35,565.39 L487.85,564.97 L488.35,564.56 L488.85,564.17 L489.35,563.8 L489.85,563.44 L490.35,563.1 L490.85,562.77 L491.35,562.47 L491.85,562.17 L492.35,561.9 L492.85,561.64 L493.35,561.41 L493.85,561.19 L494.35,561 L494.85,560.84 L495.35,560.74 L495.85,560.7 L496.35,560.74 L496.85,560.84 L497.35,561 L497.85,561.19 L498.35,561.41 L498.85,561.64 L499.35,561.9 L499.85,562.17 L500.35,562.47 L500.85,562.77 L501.35,563.1 L501.85,563.44 L502.35,563.8 L502.85,564.17 L503.35,564.56 L503.85,564.97 L504.35,565.39 L504.85,565.83 L505.35,566.28 L505.85,566.74 L506.35,567.22 L506.85,567.71 L507.35,568.22 L507.85,568.74 L508.35,569.27 L508.85,569.82 L509.35,570.38 L509.85,570.95 L510.35,571.53 L510.85,572.12 L511.35,572.73 L511.85,573.34 L512.35,573.97 L512.85,574.61 L513.35,575.25 L513.85,575.91 L514.35,576.57 L514.85,577.25 L515.35,577.93 L515.85,578.62 L516.35,579.32 L516.85,580.03 L517.35,580.74 L517.85,581.47 L518.35,582.19 L518.85,582.93 L519.35,583.67 L519.85,584.42 L520.35,585.18 L520.85,585.94 L521.35,586.71 L521.85,587.48 L522.35,588.25 L522.85,589.04 L523.35,589.82 L523.85,590.61 L524.35,591.41 L524.85,592.21 L525.35,593.01 L525.85,593.82 L526.35,594.63 L526.85,595.44 L527.35,596.26 L527.85,597.08 L528.35,597.9 L528.85,598.72 L529.35,599.55 L529.85,600.38 L530.35,601.21 L530.85,602.04 L531.35,602.88 L531.85,603.71 L532.35,604.55 L532.85,605.39 L533.35,606.23 L533.85,607.07 L534.35,607.92 L534.85,608.76 L535.35,609.6 L535.85,610.45 L536.35,611.29 L536.85,612.14 L537.35,612.99 L537.85,613.83 L538.35,614.68 L538.85,615.53 L539.35,616.38 L539.85,617.22 L540.35,618.07 L540.85,618.91 L541.35,619.76 L541.85,620.61 L542.35,621.45 L542.85,622.29 L543.35,623.14 L543.85,623.98 L544.35,624.82 L544.85,625.66 L545.35,626.5 L545.85,627.33 L546.35,628.17 L546.85,629 L547.35,629.83 L547.85,630.66 L548.35,631.49 L548.85,632.31 L549.35,633.13 L549.85,633.95 L550.35,634.77 L550.85,635.58 L551.35,636.38 L551.85,637.19 L552.35,637.99 L552.85,638.78 L553.35,639.57 L553.85,640.36 L554.35,641.14 L554.85,641.91 L555.35,642.68 L555.85,643.44 L556.35,644.2 L556.85,644.94 L557.35,645.68 L557.85,646.41 L558.35,647.14 L558.85,647.85 L559.35,648.55 L559.85,649.24 L560.35,649.93 L560.85,650.6 L561.35,651.25 L561.85,651.9 L562.35,652.53 L562.85,653.14 L563.35,653.74 L563.85,654.33 L564.35,654.9 L564.85,655.45 L565.35,655.98 L565.85,656.49 L566.35,656.98 L566.85,657.45 L567.35,657.89 L567.85,658.31 L568.35,658.71 L568.85,659.08 L569.35,659.42 L569.85,659.73 L570.35,660.01 L570.85,660.26 L571.35,660.48 L571.85,660.66 L572.35,660.81 L572.85,660.92 L573.35,660.98 L573.85,661.01 L574.35,660.99 L574.85,660.93 L575.35,660.83 L575.85,660.7 L576.35,660.54 L576.85,660.35 L577.35,660.12 L577.85,659.87 L578.35,659.59 L578.85,659.29 L579.35,658.95 L579.85,658.59 L580.35,658.2 L580.85,657.79 L581.35,657.35 L581.85,656.89 L582.35,656.4 L582.85,655.89 L583.35,655.35 L583.85,654.8 L584.35,654.22 L584.85,653.62 L585.35,653 L585.85,652.36 L586.35,651.7 L586.85,651.02 L587.35,650.32 L587.85,649.6 L588.35,648.86 L588.85,648.11 L589.35,647.34 L589.85,646.55 L590.35,645.75 L590.85,644.94 L591.35,644.1 L591.85,643.26 L592.35,642.4 L592.85,641.53 L593.35,640.64 L593.85,639.74 L594.35,638.83 L594.85,637.92 L595.35,636.99 L595.85,636.05 L596.35,635.1 L596.85,634.14 L597.35,633.17 L597.85,632.2 L598.35,631.21 L598.85,630.23 L599.35,629.23 L599.85,628.23 L600.35,627.22 L600.85,626.21 L601.35,625.2 L601.85,624.18 L602.35,623.16 L602.85,622.13 L603.35,621.11 L603.85,620.08 L604.35,619.05 L604.85,618.02 L605.35,616.99 L605.85,615.96 L606.35,614.93 L606.85,613.91 L607.35,612.88 L607.85,611.86 L608.35,610.84 L608.85,609.83 L609.35,608.82 L609.85,607.81 L610.35,606.81 L610.85,605.82 L611.35,604.84 L611.85,603.9 L612.35,603.03 L612.85,602.28 L613.35,601.7" fill="none" stroke="#1e1628" stroke-width="3.9" stroke-linejoin="round"/>
<path d="M378.35,729.53 L378.85,729.5 L379.35,729.46 L379.85,729.42 L380.35,729.37 L380.85,729.33 L381.35,729.29 L381.85,729.25 L382.35,729.21 L382.85,729.18 L383.35,729.15 L383.85,729.12 L384.35,729.1 L384.85,729.08 L385.35,729.06 L385.85,729.04 L386.35,729.03 L386.85,729.02 L387.35,729.01 L387.85,729.01 L388.35,729 L388.85,729 L389.35,729.01 L389.85,729.01 L390.35,729.02 L390.85,729.04 L391.35,729.05 L391.85,729.07 L392.35,729.09 L392.85,729.11 L393.35,729.14 L393.85,729.17 L394.35,729.2 L394.85,729.23 L395.35,729.27 L395.85,729.31 L396.35,729.35 L396.85,729.4 L397.35,729.45 L397.85,729.5 L398.35,729.56 L398.85,729.61 L399.35,729.67 L399.85,729.74 L400.35,729.8 L400.85,729.87 L401.35,729.94 L401.85,730.01 L402.35,730.09 L402.85,730.17 L403.35,730.25 L403.85,730.34 L404.35,730.43 L404.85,730.52 L405.35,730.61 L405.85,730.71 L406.35,730.81 L406.85,730.91 L407.35,731.02 L407.85,731.12 L408.35,731.23 L408.85,731.35 L409.35,731.46 L409.85,731.58 L410.35,731.7 L410.85,731.83 L411.35,731.96 L411.85,732.09 L412.35,732.22 L412.85,732.36 L413.35,732.5 L413.85,732.64 L414.35,732.78 L414.85,732.93 L415.35,733.08 L415.85,733.23 L416.35,733.38 L416.85,733.53 L417.35,733.65 L417.85,733.76 L418.35,733.81 L418.85,733.82 L419.35,733.76 L419.85,733.64 L420.35,733.46 L420.85,733.23 L421.35,732.94 L421.85,732.59 L422.35,732.21 L422.85,731.78 L423.35,731.31 L423.85,730.8 L424.35,730.26 L424.85,729.68 L425.35,729.08 L425.85,728.45 L426.35,727.8 L426.85,727.12 L427.35,726.43 L427.85,725.72 L428.35,724.99 L428.85,724.24 L429.35,723.49 L429.85,722.72 L430.35,721.94 L430.85,721.16 L431.35,720.36 L431.85,719.56 L432.35,718.76 L432.85,717.95 L433.35,717.13 L433.85,716.31 L434.35,715.49 L434.85,714.67 L435.35,713.84 L435.85,713.01 L436.35,712.19 L436.85,711.36 L437.35,710.53 L437.85,709.7 L438.35,708.87 L438.85,708.04 L439.35,707.21 L439.85,706.38 L440.35,705.55 L440.85,704.72 L441.35,703.89 L441.85,703.06 L442.35,702.23 L442.85,701.39 L443.35,700.56 L443.85,699.72 L444.35,698.88 L444.85,698.04 L445.35,697.19 L445.85,696.35 L446.35,695.49 L446.85,694.64 L447.35,693.78 L447.85,692.91 L448.35,692.04 L448.85,691.16 L449.35,690.28 L449.85,689.39 L450.35,688.49 L450.85,687.59 L451.35,686.68 L451.85,685.75 L452.35,684.82 L452.85,683.89 L453.35,682.94 L453.85,681.98 L454.35,681.01 L454.85,680.03 L455.35,679.04 L455.85,678.04 L456.35,677.02 L456.85,676 L457.35,674.96 L457.85,673.91 L458.35,672.85 L458.85,671.77 L459.35,670.69 L459.85,669.59 L460.35,668.48 L460.85,667.35 L461.35,666.21 L461.85,665.06 L462.35,663.9 L462.85,662.72 L463.35,661.53 L463.85,660.33 L464.35,659.12 L464.85,657.89 L465.35,656.65 L465.85,655.4 L466.35,654.15 L466.85,652.88 L467.35,651.6 L467.85,650.31 L468.35,649.01 L468.85,647.7 L469.35,646.38 L469.85,645.06 L470.35,643.73 L470.85,642.4 L471.35,641.06 L471.85,639.71 L472.35,638.36 L472.85,637.01 L473.35,635.66 L473.85,634.3 L474.35,632.95 L474.85,631.6 L475.35,630.24 L475.85,628.9 L476.35,627.55 L476.85,626.21 L477.35,624.88 L477.85,623.56 L478.35,622.24 L478.85,620.94 L479.35,619.65 L479.85,618.37 L480.35,617.1 L480.85,615.85 L481.35,614.62 L481.85,613.41 L482.35,612.21 L482.85,611.04 L483.35,609.9 L483.85,608.77 L484.35,607.68 L484.85,606.61 L485.35,605.57 L485.85,604.56 L486.35,603.59 L486.85,602.65 L487.35,601.75 L487.85,600.88 L488.35,600.06 L488.85,599.28 L489.35,598.54 L489.85,597.84 L490.35,597.19 L490.85,596.59 L491.35,596.04 L491.85,595.54 L492.35,595.1 L492.85,594.71 L493.35,594.38 L493.85,594.1 L494.35,593.89 L494.85,593.74 L495.35,593.65 L495.85,593.62 L496.35,593.65 L496.85,593.74 L497.35,593.89 L497.85,594.1 L498.35,594.38 L498.85,594.71 L499.35,595.1 L499.85,595.54 L500.35,596.04 L500.85,596.59 L501.35,597.19 L501.85,597.84 L502.35,598.54 L502.85,599.28 L503.35,600.06 L503.85,600.88 L504.35,601.75 L504.85,602.65 L505.35,603.59 L505.85,604.56 L506.35,605.57 L506.85,606.61 L507.35,607.68 L507.85,608.77 L508.35,609.9 L508.85,611.04 L509.35,612.21 L509.85,613.41 L510.35,614.62 L510.85,615.85 L511.35,617.1 L511.85,618.37 L512.35,619.65 L512.85,620.94 L513.35,622.24 L513.85,623.56 L514.35,624.88 L514.85,626.21 L515.35,627.55 L515.85,628.9 L516.35,630.24 L516.85,631.6 L517.35,632.95 L517.85,634.3 L518.35,635.66 L518.85,637.01 L519.35,638.36 L519.85,639.71 L520.35,641.06 L520.85,642.4 L521.35,643.73 L521.85,645.06 L522.35,646.38 L522.85,647.7 L523.35,649.01 L523.85,650.31 L524.35,651.6 L524.85,652.88 L525.35,654.15 L525.85,655.4 L526.35,656.65 L526.85,657.89 L527.35,659.12 L527.85,660.33 L528.35,661.53 L528.85,662.72 L529.35,663.9 L529.85,665.06 L530.35,666.21 L530.85,667.35 L531.35,668.48 L531.85,669.59 L532.35,670.69 L532.85,671.77 L533.35,672.85 L533.85,673.91 L534.35,674.96 L534.85,676 L535.35,677.02 L535.85,678.04 L536.35,679.04 L536.85,680.03 L537.35,681.01 L537.85,681.98 L538.35,682.94 L538.85,683.89 L539.35,684.82 L539.85,685.75 L540.35,686.68 L540.85,687.59 L541.35,688.49 L541.85,689.39 L542.35,690.28 L542.85,691.16 L543.35,692.04 L543.85,692.91 L544.35,693.78 L544.85,694.64 L545.35,695.49 L545.85,696.35 L546.35,697.19 L546.85,698.04 L547.35,698.88 L547.85,699.72 L548.35,700.56 L548.85,701.39 L549.35,702.23 L549.85,703.06 L550.35,703.89 L550.85,704.72 L551.35,705.55 L551.85,706.38 L552.35,707.21 L552.85,708.04 L553.35,708.87 L553.85,709.7 L554.35,710.53 L554.85,711.36 L555.35,712.19 L555.85,713.01 L556.35,713.84 L556.85,714.67 L557.35,715.49 L557.85,716.31 L558.35,717.13 L558.85,717.95 L559.35,718.76 L559.85,719.56 L560.35,720.36 L560.85,721.16 L561.35,721.94 L561.85,722.72 L562.35,723.49 L562.85,724.24 L563.35,724.99 L563.85,725.72 L564.35,726.43 L564.85,727.12 L565.35,727.8 L565.85,728.45 L566.35,729.08 L566.85,729.68 L567.35,730.26 L567.85,730.8 L568.35,731.31 L568.85,731.78 L569.35,732.21 L569.85,732.59 L570.35,732.94 L570.85,733.23 L571.35,733.46 L571.85,733.64 L572.35,733.76 L572.85,733.82 L573.35,733.81 L573.85,733.76 L574.35,733.65 L574.85,733.53 L575.35,733.38 L575.85,733.23 L576.35,733.08 L576.85,732.93 L577.35,732.78 L577.85,732.64 L578.35,732.5 L578.85,732.36 L579.35,732.22 L579.85,732.09 L580.35,731.96 L580.85,731.83 L581.35,731.7 L581.85,731.58 L582.35,731.46 L582.85,731.35 L583.35,731.23 L583.85,731.12 L584.35,731.02 L584.85,730.91 L585.35,730.81 L585.85,730.71 L586.35,730.61 L586.85,730.52 L587.35,730.43 L587.85,730.34 L588.35,730.25 L588.85,730.17 L589.35,730.09 L589.85,730.01 L590.35,729.94 L590.85,729.87 L591.35,729.8 L591.85,729.74 L592.35,729.67 L592.85,729.61 L593.35,729.56 L593.85,729.5 L594.35,729.45 L594.85,729.4 L595.35,729.35 L595.85,729.31 L596.35,729.27 L596.85,729.23 L597.35,729.2 L597.85,729.17 L598.35,729.14 L598.85,729.11 L599.35,729.09 L599.85,729.07 L600.35,729.05 L600.85,729.04 L601.35,729.02 L601.85,729.01 L602.35,729.01 L602.85,729 L603.35,729 L603.85,729.01 L604.35,729.01 L604.85,729.02 L605.35,729.03 L605.85,729.04 L606.35,729.06 L606.85,729.08 L607.35,729.1 L607.85,729.12 L608.35,729.15 L608.85,729.18 L609.35,729.21 L609.85,729.25 L610.35,729.29 L610.85,729.33 L611.35,729.37 L611.85,729.42 L612.35,729.46 L612.85,729.5 L613.35,729.53" fill="none" stroke="url(#b2_70)" stroke-width="3.9" stroke-linejoin="round"/>
<path d="M378.35,780.69 L378.85,780.69 L379.35,780.67 L379.85,780.66 L380.35,780.63 L380.85,780.6 L381.35,780.56 L381.85,780.52 L382.35,780.47 L382.85,780.42 L383.35,780.36 L383.85,780.3 L384.35,780.23 L384.85,780.15 L385.35,780.07 L385.85,779.98 L386.35,779.89 L386.85,779.79 L387.35,779.69 L387.85,779.58 L388.35,779.47 L388.85,779.36 L389.35,779.24 L389.85,779.11 L390.35,778.98 L390.85,778.85 L391.35,778.71 L391.85,778.57 L392.35,778.42 L392.85,778.27 L393.35,778.12 L393.85,777.96 L394.35,777.8 L394.85,777.64 L395.35,777.47 L395.85,777.3 L396.35,777.12 L396.85,776.95 L397.35,776.76 L397.85,776.58 L398.35,776.39 L398.85,776.21 L399.35,776.01 L399.85,775.82 L400.35,775.62 L400.85,775.42 L401.35,775.22 L401.85,775.02 L402.35,774.81 L402.85,774.6 L403.35,774.39 L403.85,774.18 L404.35,773.97 L404.85,773.75 L405.35,773.54 L405.85,773.32 L406.35,773.1 L406.85,772.88 L407.35,772.66 L407.85,772.44 L408.35,772.21 L408.85,771.99 L409.35,771.76 L409.85,771.54 L410.35,771.31 L410.85,771.09 L411.35,770.86 L411.85,770.63 L412.35,770.4 L412.85,770.17 L413.35,769.95 L413.85,769.72 L414.35,769.49 L414.85,769.27 L415.35,769.04 L415.85,768.82 L416.35,768.62 L416.85,768.44 L417.35,768.32 L417.85,768.27 L418.35,768.3 L418.85,768.4 L419.35,768.55 L419.85,768.74 L420.35,768.97 L420.85,769.23 L421.35,769.51 L421.85,769.81 L422.35,770.14 L422.85,770.48 L423.35,770.85 L423.85,771.23 L424.35,771.63 L424.85,772.05 L425.35,772.49 L425.85,772.93 L426.35,773.4 L426.85,773.87 L427.35,774.36 L427.85,774.86 L428.35,775.37 L428.85,775.88 L429.35,776.41 L429.85,776.95 L430.35,777.49 L430.85,778.04 L431.35,778.59 L431.85,779.16 L432.35,779.72 L432.85,780.29 L433.35,780.86 L433.85,781.44 L434.35,782.02 L434.85,782.6 L435.35,783.19 L435.85,783.77 L436.35,784.35 L436.85,784.94 L437.35,785.53 L437.85,786.11 L438.35,786.69 L438.85,787.28 L439.35,787.86 L439.85,788.44 L440.35,789.02 L440.85,789.59 L441.35,790.16 L441.85,790.73 L442.35,791.3 L442.85,791.86 L443.35,792.42 L443.85,792.98 L444.35,793.53 L444.85,794.08 L445.35,794.62 L445.85,795.16 L446.35,795.69 L446.85,796.22 L447.35,796.75 L447.85,797.27 L448.35,797.78 L448.85,798.29 L449.35,798.8 L449.85,799.3 L450.35,799.79 L450.85,800.28 L451.35,800.77 L451.85,801.24 L452.35,801.72 L452.85,802.19 L453.35,802.65 L453.85,803.1 L454.35,803.56 L454.85,804 L455.35,804.44 L455.85,804.88 L456.35,805.31 L456.85,805.73 L457.35,806.15 L457.85,806.56 L458.35,806.97 L458.85,807.38 L459.35,807.77 L459.85,808.17 L460.35,808.56 L460.85,808.94 L461.35,809.32 L461.85,809.69 L462.35,810.06 L462.85,810.42 L463.35,810.78 L463.85,811.13 L464.35,811.48 L464.85,811.82 L465.35,812.16 L465.85,812.5 L466.35,812.83 L466.85,813.15 L467.35,813.47 L467.85,813.79 L468.35,814.1 L468.85,814.41 L469.35,814.71 L469.85,815.01 L470.35,815.31 L470.85,815.6 L471.35,815.89 L471.85,816.17 L472.35,816.45 L472.85,816.73 L473.35,817 L473.85,817.26 L474.35,817.53 L474.85,817.79 L475.35,818.04 L475.85,818.29 L476.35,818.54 L476.85,818.78 L477.35,819.02 L477.85,819.25 L478.35,819.48 L478.85,819.71 L479.35,819.93 L479.85,820.15 L480.35,820.36 L480.85,820.57 L481.35,820.77 L481.85,820.97 L482.35,821.16 L482.85,821.35 L483.35,821.54 L483.85,821.72 L484.35,821.89 L484.85,822.06 L485.35,822.22 L485.85,822.38 L486.35,822.53 L486.85,822.68 L487.35,822.82 L487.85,822.95 L488.35,823.08 L488.85,823.2 L489.35,823.31 L489.85,823.42 L490.35,823.52 L490.85,823.62 L491.35,823.7 L491.85,823.78 L492.35,823.85 L492.85,823.91 L493.35,823.96 L493.85,824 L494.35,824.04 L494.85,824.06 L495.35,824.08 L495.85,824.08 L496.35,824.08 L496.85,824.06 L497.35,824.04 L497.85,824 L498.35,823.96 L498.85,823.91 L499.35,823.85 L499.85,823.78 L500.35,823.7 L500.85,823.62 L501.35,823.52 L501.85,823.42 L502.35,823.31 L502.85,823.2 L503.35,823.08 L503.85,822.95 L504.35,822.82 L504.85,822.68 L505.35,822.53 L505.85,822.38 L506.35,822.22 L506.85,822.06 L507.35,821.89 L507.85,821.72 L508.35,821.54 L508.85,821.35 L509.35,821.16 L509.85,820.97 L510.35,820.77 L510.85,820.57 L511.35,820.36 L511.85,820.15 L512.35,819.93 L512.85,819.71 L513.35,819.48 L513.85,819.25 L514.35,819.02 L514.85,818.78 L515.35,818.54 L515.85,818.29 L516.35,818.04 L516.85,817.79 L517.35,817.53 L517.85,817.26 L518.35,817 L518.85,816.73 L519.35,816.45 L519.85,816.17 L520.35,815.89 L520.85,815.6 L521.35,815.31 L521.85,815.01 L522.35,814.71 L522.85,814.41 L523.35,814.1 L523.85,813.79 L524.35,813.47 L524.85,813.15 L525.35,812.83 L525.85,812.5 L526.35,812.16 L526.85,811.82 L527.35,811.48 L527.85,811.13 L528.35,810.78 L528.85,810.42 L529.35,810.06 L529.85,809.69 L530.35,809.32 L530.85,808.94 L531.35,808.56 L531.85,808.17 L532.35,807.77 L532.85,807.38 L533.35,806.97 L533.85,806.56 L534.35,806.15 L534.85,805.73 L535.35,805.31 L535.85,804.88 L536.35,804.44 L536.85,804 L537.35,803.56 L537.85,803.1 L538.35,802.65 L538.85,802.19 L539.35,801.72 L539.85,801.24 L540.35,800.77 L540.85,800.28 L541.35,799.79 L541.85,799.3 L542.35,798.8 L542.85,798.29 L543.35,797.78 L543.85,797.27 L544.35,796.75 L544.85,796.22 L545.35,795.69 L545.85,795.16 L546.35,794.62 L546.85,794.08 L547.35,793.53 L547.85,792.98 L548.35,792.42 L548.85,791.86 L549.35,791.3 L549.85,790.73 L550.35,790.16 L550.85,789.59 L551.35,789.02 L551.85,788.44 L552.35,787.86 L552.85,787.28 L553.35,786.69 L553.85,786.11 L554.35,785.53 L554.85,784.94 L555.35,784.35 L555.85,783.77 L556.35,783.19 L556.85,782.6 L557.35,782.02 L557.85,781.44 L558.35,780.86 L558.85,780.29 L559.35,779.72 L559.85,779.16 L560.35,778.59 L560.85,778.04 L561.35,777.49 L561.85,776.95 L562.35,776.41 L562.85,775.88 L563.35,775.37 L563.85,774.86 L564.35,774.36 L564.85,773.87 L565.35,773.4 L565.85,772.93 L566.35,772.49 L566.85,772.05 L567.35,771.63 L567.85,771.23 L568.35,770.85 L568.85,770.48 L569.35,770.14 L569.85,769.81 L570.35,769.51 L570.85,769.23 L571.35,768.97 L571.85,768.74 L572.35,768.55 L572.85,768.4 L573.35,768.3 L573.85,768.27 L574.35,768.32 L574.85,768.44 L575.35,768.62 L575.85,768.82 L576.35,769.04 L576.85,769.27 L577.35,769.49 L577.85,769.72 L578.35,769.95 L578.85,770.17 L579.35,770.4 L579.85,770.63 L580.35,770.86 L580.85,771.09 L581.35,771.31 L581.85,771.54 L582.35,771.76 L582.85,771.99 L583.35,772.21 L583.85,772.44 L584.35,772.66 L584.85,772.88 L585.35,773.1 L585.85,773.32 L586.35,773.54 L586.85,773.75 L587.35,773.97 L587.85,774.18 L588.35,774.39 L588.85,774.6 L589.35,774.81 L589.85,775.02 L590.35,775.22 L590.85,775.42 L591.35,775.62 L591.85,775.82 L592.35,776.01 L592.85,776.21 L593.35,776.39 L593.85,776.58 L594.35,776.76 L594.85,776.95 L595.35,777.12 L595.85,777.3 L596.35,777.47 L596.85,777.64 L597.35,777.8 L597.85,777.96 L598.35,778.12 L598.85,778.27 L599.35,778.42 L599.85,778.57 L600.35,778.71 L600.85,778.85 L601.35,778.98 L601.85,779.11 L602.35,779.24 L602.85,779.36 L603.35,779.47 L603.85,779.58 L604.35,779.69 L604.85,779.79 L605.35,779.89 L605.85,779.98 L606.35,780.07 L606.85,780.15 L607.35,780.23 L607.85,780.3 L608.35,780.36 L608.85,780.42 L609.35,780.47 L609.85,780.52 L610.35,780.56 L610.85,780.6 L611.35,780.63 L611.85,780.66 L612.35,780.67 L612.85,780.69 L613.35,780.69" fill="none" stroke="url(#b1_70)" stroke-width="3.9" stroke-linejoin="round"/>
<line x1="417.45" y1="406.28" x2="417.45" y2="834.36" stroke="#e2e2e2" stroke-width="1.6"/>
<line x1="495.85" y1="406.28" x2="495.85" y2="834.36" stroke="#e2e2e2" stroke-width="1.6"/>
<line x1="574.25" y1="406.28" x2="574.25" y2="834.36" stroke="#e2e2e2" stroke-width="1.6"/>
</g>
<rect x="366.48" y="406.28" width="258.47" height="428.08" fill="none" stroke="#666" stroke-width="1.2"/>
<line x1="366.48" y1="824.1" x2="370.98" y2="824.1" stroke="#222" stroke-width="1.6"/>
<line x1="366.48" y1="774.91" x2="370.98" y2="774.91" stroke="#222" stroke-width="1.6"/>
<line x1="366.48" y1="725.72" x2="370.98" y2="725.72" stroke="#222" stroke-width="1.6"/>
<line x1="366.48" y1="676.53" x2="370.98" y2="676.53" stroke="#222" stroke-width="1.6"/>
<line x1="366.48" y1="627.34" x2="370.98" y2="627.34" stroke="#222" stroke-width="1.6"/>
<line x1="366.48" y1="578.15" x2="370.98" y2="578.15" stroke="#222" stroke-width="1.6"/>
<line x1="366.48" y1="528.96" x2="370.98" y2="528.96" stroke="#222" stroke-width="1.6"/>
<line x1="366.48" y1="479.77" x2="370.98" y2="479.77" stroke="#222" stroke-width="1.6"/>
<line x1="366.48" y1="430.58" x2="370.98" y2="430.58" stroke="#222" stroke-width="1.6"/>
<line x1="417.45" y1="834.36" x2="417.45" y2="829.86" stroke="#222" stroke-width="1.6"/>
<line x1="495.85" y1="834.36" x2="495.85" y2="829.86" stroke="#222" stroke-width="1.6"/>
<line x1="574.25" y1="834.36" x2="574.25" y2="829.86" stroke="#222" stroke-width="1.6"/>
<rect x="405.25" y="849.7" width="11.7" height="1.5" fill="#111"/>
<text x="419.05" y="855.8" font-size="19.5" font-style="italic">κ</text>
<text x="495.85" y="855.8" font-size="19.5" text-anchor="middle" font-style="italic">γ</text>
<text x="574.25" y="855.8" font-size="19.5" text-anchor="middle" font-style="italic">κ</text>
<text x="496.35" y="878.3" font-size="19" text-anchor="middle" textLength="107" lengthAdjust="spacingAndGlyphs">Momentum</text>
<text x="51.8" y="831.1" font-size="20" text-anchor="end">0</text>
<text x="51.8" y="781.91" font-size="20" text-anchor="end">10</text>
<text x="51.8" y="732.72" font-size="20" text-anchor="end">20</text>
<text x="51.8" y="683.53" font-size="20" text-anchor="end">30</text>
<text x="51.8" y="634.34" font-size="20" text-anchor="end">40</text>
<text x="51.8" y="585.15" font-size="20" text-anchor="end">50</text>
<text x="51.8" y="535.96" font-size="20" text-anchor="end">60</text>
<text x="51.8" y="486.77" font-size="20" text-anchor="end">70</text>
<text x="51.8" y="437.58" font-size="20" text-anchor="end">80</text>
<text x="154.3" y="426.3" font-size="20.5" textLength="72.8" lengthAdjust="spacingAndGlyphs">(b) 10 K</text>
<text x="458.7" y="425.5" font-size="20.5" textLength="69.6" lengthAdjust="spacingAndGlyphs">(c) 70 K</text>
<text transform="translate(19.2,686.2) rotate(-90)" font-size="19.5" textLength="131" lengthAdjust="spacingAndGlyphs">Energy (meV)</text>
<rect x="641.6" y="406.5" width="21.1" height="428.2" fill="url(#cbar)" stroke="#444" stroke-width="0.8"/>
<text x="668.5" y="411.9" font-size="19">1</text>
<text x="667.5" y="841.1" font-size="19">0</text>
<text transform="translate(669.5,483.8) rotate(90)" font-size="19.5" textLength="273" lengthAdjust="spacingAndGlyphs">Exciton Density N (arb. units)</text>
</svg></body></html>
